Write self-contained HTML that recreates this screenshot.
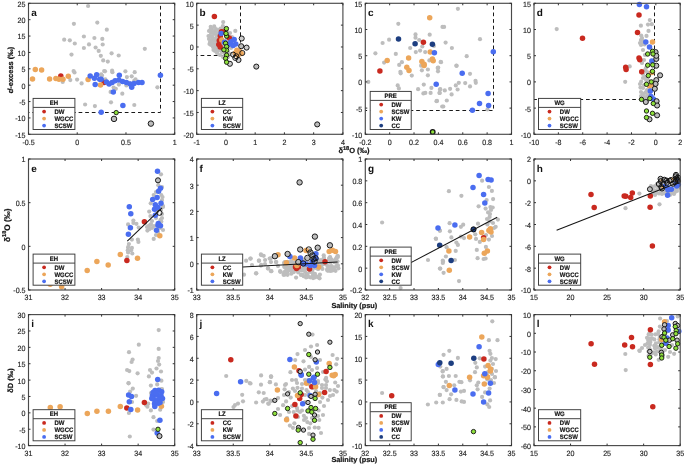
<!DOCTYPE html>
<html><head><meta charset="utf-8"><style>html,body{margin:0;padding:0;background:#fff;}svg{display:block;font-family:"Liberation Sans",sans-serif;text-rendering:geometricPrecision;filter:blur(0.3px);}</style></head><body>
<svg width="685" height="464" viewBox="0 0 685 464">
<rect width="685" height="464" fill="#fff"/>
<rect x="28.5" y="3.3" width="146.2" height="131" fill="#fff"/>
<polyline points="160.5,3.3 160.5,112.5 28.5,112.5" fill="none" stroke="#1a1a1a" stroke-width="1" stroke-dasharray="3.7 2.9" stroke-dashoffset="4.0"/>
<circle cx="88.1" cy="6" r="2.1" fill="#BDBDBD"/>
<circle cx="73.9" cy="23.8" r="2.1" fill="#BDBDBD"/>
<circle cx="97.3" cy="22.6" r="2.1" fill="#BDBDBD"/>
<circle cx="64.2" cy="39.7" r="2.1" fill="#BDBDBD"/>
<circle cx="69.8" cy="40.3" r="2.1" fill="#BDBDBD"/>
<circle cx="74.8" cy="43.5" r="2.1" fill="#BDBDBD"/>
<circle cx="83.9" cy="36.5" r="2.1" fill="#BDBDBD"/>
<circle cx="94.4" cy="38" r="2.1" fill="#BDBDBD"/>
<circle cx="102.3" cy="38.9" r="2.1" fill="#BDBDBD"/>
<circle cx="89" cy="44.4" r="2.1" fill="#BDBDBD"/>
<circle cx="83.9" cy="48" r="2.1" fill="#BDBDBD"/>
<circle cx="95.6" cy="47.5" r="2.1" fill="#BDBDBD"/>
<circle cx="98.7" cy="50.9" r="2.1" fill="#BDBDBD"/>
<circle cx="102.7" cy="44.5" r="2.1" fill="#BDBDBD"/>
<circle cx="71.5" cy="54.6" r="2.1" fill="#BDBDBD"/>
<circle cx="100.8" cy="55.8" r="2.1" fill="#BDBDBD"/>
<circle cx="103.2" cy="60.4" r="2.1" fill="#BDBDBD"/>
<circle cx="106.8" cy="29.7" r="2.1" fill="#BDBDBD"/>
<circle cx="144.8" cy="48.8" r="2.1" fill="#BDBDBD"/>
<circle cx="111.6" cy="53.3" r="2.1" fill="#BDBDBD"/>
<circle cx="118.7" cy="55.5" r="2.1" fill="#BDBDBD"/>
<circle cx="107.8" cy="61.6" r="2.1" fill="#BDBDBD"/>
<circle cx="73.6" cy="71" r="2.1" fill="#BDBDBD"/>
<circle cx="70.3" cy="80.1" r="2.1" fill="#BDBDBD"/>
<circle cx="77.1" cy="79.6" r="2.1" fill="#BDBDBD"/>
<circle cx="81.6" cy="83.4" r="2.1" fill="#BDBDBD"/>
<circle cx="62.7" cy="81.9" r="2.1" fill="#BDBDBD"/>
<circle cx="102" cy="75.6" r="2.1" fill="#BDBDBD"/>
<circle cx="85.1" cy="104.5" r="2.1" fill="#BDBDBD"/>
<circle cx="94.9" cy="106.1" r="2.1" fill="#BDBDBD"/>
<circle cx="104.2" cy="71" r="2.1" fill="#BDBDBD"/>
<circle cx="105" cy="71.3" r="2.1" fill="#BDBDBD"/>
<circle cx="112.1" cy="70.7" r="2.1" fill="#BDBDBD"/>
<circle cx="112.4" cy="72.2" r="2.1" fill="#BDBDBD"/>
<circle cx="125.4" cy="71.3" r="2.1" fill="#BDBDBD"/>
<circle cx="134.7" cy="72.2" r="2.1" fill="#BDBDBD"/>
<circle cx="126.9" cy="77.1" r="2.1" fill="#BDBDBD"/>
<circle cx="131.7" cy="76.3" r="2.1" fill="#BDBDBD"/>
<circle cx="135.5" cy="79.3" r="2.1" fill="#BDBDBD"/>
<circle cx="101.2" cy="74.4" r="2.1" fill="#BDBDBD"/>
<circle cx="105.3" cy="79.3" r="2.1" fill="#BDBDBD"/>
<circle cx="113.6" cy="87.6" r="2.1" fill="#BDBDBD"/>
<circle cx="115.8" cy="88.8" r="2.1" fill="#BDBDBD"/>
<circle cx="110.6" cy="91.9" r="2.1" fill="#BDBDBD"/>
<circle cx="122.3" cy="93.7" r="2.1" fill="#BDBDBD"/>
<circle cx="118.9" cy="84.6" r="2.1" fill="#BDBDBD"/>
<circle cx="126.4" cy="85.4" r="2.1" fill="#BDBDBD"/>
<circle cx="157.4" cy="87.3" r="2.1" fill="#BDBDBD"/>
<circle cx="111" cy="102.3" r="2.1" fill="#BDBDBD"/>
<circle cx="134.3" cy="105" r="2.1" fill="#BDBDBD"/>
<circle cx="129" cy="82.9" r="2.1" fill="#BDBDBD"/>
<circle cx="134.2" cy="80.8" r="2.1" fill="#BDBDBD"/>
<circle cx="74.5" cy="72.5" r="2.1" fill="#BDBDBD"/>
<circle cx="60.8" cy="75.9" r="2.75" fill="#C9291F"/>
<circle cx="104" cy="82.6" r="2.75" fill="#C9291F"/>
<circle cx="35.3" cy="69.5" r="2.75" fill="#ECA65A"/>
<circle cx="41.6" cy="70" r="2.75" fill="#ECA65A"/>
<circle cx="32.5" cy="79" r="2.75" fill="#ECA65A"/>
<circle cx="49.6" cy="79" r="2.75" fill="#ECA65A"/>
<circle cx="55.9" cy="78.6" r="2.75" fill="#ECA65A"/>
<circle cx="59" cy="79.3" r="2.75" fill="#ECA65A"/>
<circle cx="63" cy="79.3" r="2.75" fill="#ECA65A"/>
<circle cx="68.3" cy="76.3" r="2.75" fill="#ECA65A"/>
<circle cx="88.1" cy="79.5" r="2.75" fill="#ECA65A"/>
<circle cx="100.5" cy="85.1" r="2.75" fill="#ECA65A"/>
<circle cx="90.2" cy="75.9" r="2.75" fill="#4A6DF0"/>
<circle cx="96.7" cy="74.8" r="2.75" fill="#4A6DF0"/>
<circle cx="94.4" cy="78.3" r="2.75" fill="#4A6DF0"/>
<circle cx="99.7" cy="79.3" r="2.75" fill="#4A6DF0"/>
<circle cx="95.2" cy="84.6" r="2.75" fill="#4A6DF0"/>
<circle cx="101.2" cy="112.2" r="2.75" fill="#4A6DF0"/>
<circle cx="101.2" cy="79.3" r="2.75" fill="#4A6DF0"/>
<circle cx="109.1" cy="83.9" r="2.75" fill="#4A6DF0"/>
<circle cx="112.1" cy="82.4" r="2.75" fill="#4A6DF0"/>
<circle cx="115.1" cy="80.8" r="2.75" fill="#4A6DF0"/>
<circle cx="119.3" cy="75.3" r="2.75" fill="#4A6DF0"/>
<circle cx="118.9" cy="80.1" r="2.75" fill="#4A6DF0"/>
<circle cx="122.6" cy="81.6" r="2.75" fill="#4A6DF0"/>
<circle cx="126.4" cy="82.4" r="2.75" fill="#4A6DF0"/>
<circle cx="130.2" cy="83.9" r="2.75" fill="#4A6DF0"/>
<circle cx="131.7" cy="87.3" r="2.75" fill="#4A6DF0"/>
<circle cx="138.5" cy="82.4" r="2.75" fill="#4A6DF0"/>
<circle cx="142" cy="82.4" r="2.75" fill="#4A6DF0"/>
<circle cx="113.3" cy="91.9" r="2.75" fill="#4A6DF0"/>
<circle cx="122.9" cy="105.5" r="2.75" fill="#4A6DF0"/>
<circle cx="160.4" cy="75.3" r="2.75" fill="#4A6DF0"/>
<circle cx="106.5" cy="82" r="2.75" fill="#4A6DF0"/>
<circle cx="134" cy="83.5" r="2.75" fill="#4A6DF0"/>
<circle cx="114" cy="118.9" r="2.75" fill="#BDBDBD" stroke="#111" stroke-width="0.95"/>
<circle cx="150.9" cy="123.6" r="2.75" fill="#BDBDBD" stroke="#111" stroke-width="0.95"/>
<circle cx="116.2" cy="112.6" r="2.2" fill="#8EE03C" stroke="#111" stroke-width="0.9"/>
<rect x="33.1" y="98.4" width="41.8" height="31.1" fill="#fff" stroke="#3a3a3a" stroke-width="0.95"/>
<line x1="33.1" y1="107.4" x2="74.9" y2="107.4" stroke="#3a3a3a" stroke-width="0.95"/>
<text transform="translate(54,105.1) scale(1,1.07)" font-size="6" font-weight="bold" text-anchor="middle" fill="#111" stroke="#111" stroke-width="0.15">EH</text>
<circle cx="44.1" cy="111.6" r="1.9" fill="#C9291F"/>
<text transform="translate(54.4,113.9) scale(1,1.07)" font-size="6" font-weight="bold" fill="#111" stroke="#111" stroke-width="0.15">DW</text>
<circle cx="44.1" cy="118.6" r="1.9" fill="#ECA65A"/>
<text transform="translate(54.4,120.9) scale(1,1.07)" font-size="6" font-weight="bold" fill="#111" stroke="#111" stroke-width="0.15">WGCC</text>
<circle cx="44.1" cy="125.6" r="1.9" fill="#4A6DF0"/>
<text transform="translate(54.4,127.9) scale(1,1.07)" font-size="6" font-weight="bold" fill="#111" stroke="#111" stroke-width="0.15">SCSW</text>
<rect x="28.5" y="3.3" width="146.2" height="131" fill="none" stroke="#4a4a4a" stroke-width="1.15"/>
<text transform="translate(28.5,144.6) scale(1,1.07)" font-size="7.1" text-anchor="middle" fill="#262626" stroke="#262626" stroke-width="0.15">-0.5</text>
<text transform="translate(77.23,144.6) scale(1,1.07)" font-size="7.1" text-anchor="middle" fill="#262626" stroke="#262626" stroke-width="0.15">0</text>
<text transform="translate(125.97,144.6) scale(1,1.07)" font-size="7.1" text-anchor="middle" fill="#262626" stroke="#262626" stroke-width="0.15">0.5</text>
<text transform="translate(174.7,144.6) scale(1,1.07)" font-size="7.1" text-anchor="middle" fill="#262626" stroke="#262626" stroke-width="0.15">1</text>
<text transform="translate(25.5,137.7) scale(1,1.07)" font-size="7.1" text-anchor="end" fill="#262626" stroke="#262626" stroke-width="0.15">-15</text>
<text transform="translate(25.5,121.33) scale(1,1.07)" font-size="7.1" text-anchor="end" fill="#262626" stroke="#262626" stroke-width="0.15">-10</text>
<text transform="translate(25.5,104.95) scale(1,1.07)" font-size="7.1" text-anchor="end" fill="#262626" stroke="#262626" stroke-width="0.15">-5</text>
<text transform="translate(25.5,88.58) scale(1,1.07)" font-size="7.1" text-anchor="end" fill="#262626" stroke="#262626" stroke-width="0.15">0</text>
<text transform="translate(25.5,72.2) scale(1,1.07)" font-size="7.1" text-anchor="end" fill="#262626" stroke="#262626" stroke-width="0.15">5</text>
<text transform="translate(25.5,55.83) scale(1,1.07)" font-size="7.1" text-anchor="end" fill="#262626" stroke="#262626" stroke-width="0.15">10</text>
<text transform="translate(25.5,39.45) scale(1,1.07)" font-size="7.1" text-anchor="end" fill="#262626" stroke="#262626" stroke-width="0.15">15</text>
<text transform="translate(25.5,23.08) scale(1,1.07)" font-size="7.1" text-anchor="end" fill="#262626" stroke="#262626" stroke-width="0.15">20</text>
<text transform="translate(25.5,6.7) scale(1,1.07)" font-size="7.1" text-anchor="end" fill="#262626" stroke="#262626" stroke-width="0.15">25</text>
<path d="M28.5 134.3v-2M28.5 3.3v2M77.23 134.3v-2M77.23 3.3v2M125.97 134.3v-2M125.97 3.3v2M174.7 134.3v-2M174.7 3.3v2M28.5 134.3h2M174.7 134.3h-2M28.5 117.93h2M174.7 117.93h-2M28.5 101.55h2M174.7 101.55h-2M28.5 85.18h2M174.7 85.18h-2M28.5 68.8h2M174.7 68.8h-2M28.5 52.43h2M174.7 52.43h-2M28.5 36.05h2M174.7 36.05h-2M28.5 19.68h2M174.7 19.68h-2M28.5 3.3h2M174.7 3.3h-2" stroke="#333" stroke-width="1.0" fill="none"/>
<text x="31.3" y="15.9" font-size="10" font-weight="bold" fill="#111">a</text>
<rect x="196.7" y="3.3" width="146.2" height="131" fill="#fff"/>
<polyline points="240.5,3.3 240.5,55.5 196.7,55.5" fill="none" stroke="#1a1a1a" stroke-width="1" stroke-dasharray="3.7 2.9" stroke-dashoffset="4.0"/>
<circle cx="223.2" cy="22.1" r="2.1" fill="#BDBDBD"/>
<circle cx="210.7" cy="26.8" r="2.1" fill="#BDBDBD"/>
<circle cx="214.2" cy="26.4" r="2.1" fill="#BDBDBD"/>
<circle cx="222.9" cy="26.1" r="2.1" fill="#BDBDBD"/>
<circle cx="235.3" cy="30.9" r="2.1" fill="#BDBDBD"/>
<circle cx="210" cy="36" r="2.1" fill="#BDBDBD"/>
<circle cx="212" cy="40" r="2.1" fill="#BDBDBD"/>
<circle cx="214" cy="44" r="2.1" fill="#BDBDBD"/>
<circle cx="216" cy="48" r="2.1" fill="#BDBDBD"/>
<circle cx="218" cy="51" r="2.1" fill="#BDBDBD"/>
<circle cx="211" cy="33" r="2.1" fill="#BDBDBD"/>
<circle cx="215" cy="31" r="2.1" fill="#BDBDBD"/>
<circle cx="219" cy="30" r="2.1" fill="#BDBDBD"/>
<circle cx="223" cy="29" r="2.1" fill="#BDBDBD"/>
<circle cx="227" cy="31" r="2.1" fill="#BDBDBD"/>
<circle cx="230" cy="33" r="2.1" fill="#BDBDBD"/>
<circle cx="232" cy="37" r="2.1" fill="#BDBDBD"/>
<circle cx="229" cy="42" r="2.1" fill="#BDBDBD"/>
<circle cx="226" cy="45" r="2.1" fill="#BDBDBD"/>
<circle cx="224" cy="50" r="2.1" fill="#BDBDBD"/>
<circle cx="213" cy="38" r="2.1" fill="#BDBDBD"/>
<circle cx="217" cy="35" r="2.1" fill="#BDBDBD"/>
<circle cx="221" cy="42" r="2.1" fill="#BDBDBD"/>
<circle cx="216" cy="41" r="2.1" fill="#BDBDBD"/>
<circle cx="219" cy="47" r="2.1" fill="#BDBDBD"/>
<circle cx="222" cy="52" r="2.1" fill="#BDBDBD"/>
<circle cx="225" cy="55" r="2.1" fill="#BDBDBD"/>
<circle cx="228" cy="52" r="2.1" fill="#BDBDBD"/>
<circle cx="231" cy="48" r="2.1" fill="#BDBDBD"/>
<circle cx="233" cy="45" r="2.1" fill="#BDBDBD"/>
<circle cx="210" cy="42" r="2.1" fill="#BDBDBD"/>
<circle cx="213" cy="47" r="2.1" fill="#BDBDBD"/>
<circle cx="227" cy="39" r="2.1" fill="#BDBDBD"/>
<circle cx="209" cy="31" r="2.1" fill="#BDBDBD"/>
<circle cx="212" cy="29" r="2.1" fill="#BDBDBD"/>
<circle cx="217" cy="53" r="2.1" fill="#BDBDBD"/>
<circle cx="220" cy="55" r="2.1" fill="#BDBDBD"/>
<circle cx="223" cy="57" r="2.1" fill="#BDBDBD"/>
<circle cx="228" cy="57" r="2.1" fill="#BDBDBD"/>
<circle cx="231" cy="54" r="2.1" fill="#BDBDBD"/>
<circle cx="221" cy="37" r="2.1" fill="#BDBDBD"/>
<circle cx="214" cy="34" r="2.1" fill="#BDBDBD"/>
<circle cx="208.5" cy="36" r="2.1" fill="#BDBDBD"/>
<circle cx="211" cy="45" r="2.1" fill="#BDBDBD"/>
<circle cx="215" cy="51" r="2.1" fill="#BDBDBD"/>
<circle cx="219" cy="39" r="2.1" fill="#BDBDBD"/>
<circle cx="209" cy="39" r="2.1" fill="#BDBDBD"/>
<circle cx="210.5" cy="29.5" r="2.1" fill="#BDBDBD"/>
<circle cx="213" cy="32" r="2.1" fill="#BDBDBD"/>
<circle cx="216" cy="29" r="2.1" fill="#BDBDBD"/>
<circle cx="218" cy="33" r="2.1" fill="#BDBDBD"/>
<circle cx="209.5" cy="44" r="2.1" fill="#BDBDBD"/>
<circle cx="212" cy="43" r="2.1" fill="#BDBDBD"/>
<circle cx="214.5" cy="40.5" r="2.1" fill="#BDBDBD"/>
<circle cx="216.5" cy="37.5" r="2.1" fill="#BDBDBD"/>
<circle cx="217" cy="44" r="2.1" fill="#BDBDBD"/>
<circle cx="213.5" cy="50" r="2.1" fill="#BDBDBD"/>
<circle cx="216" cy="46" r="2.1" fill="#BDBDBD"/>
<circle cx="218" cy="49" r="2.1" fill="#BDBDBD"/>
<circle cx="221" cy="50" r="2.1" fill="#BDBDBD"/>
<circle cx="224" cy="53" r="2.1" fill="#BDBDBD"/>
<circle cx="223" cy="47" r="2.1" fill="#BDBDBD"/>
<circle cx="226" cy="50" r="2.1" fill="#BDBDBD"/>
<circle cx="229" cy="47" r="2.1" fill="#BDBDBD"/>
<circle cx="231" cy="44" r="2.1" fill="#BDBDBD"/>
<circle cx="233" cy="40" r="2.1" fill="#BDBDBD"/>
<circle cx="230" cy="38.5" r="2.1" fill="#BDBDBD"/>
<circle cx="212" cy="36.5" r="2.1" fill="#BDBDBD"/>
<circle cx="215.5" cy="33" r="2.1" fill="#BDBDBD"/>
<circle cx="220.5" cy="28.5" r="2.1" fill="#BDBDBD"/>
<circle cx="224.5" cy="30.5" r="2.1" fill="#BDBDBD"/>
<circle cx="228" cy="35" r="2.1" fill="#BDBDBD"/>
<circle cx="222" cy="45.5" r="2.1" fill="#BDBDBD"/>
<circle cx="214.4" cy="16.4" r="2.75" fill="#C9291F"/>
<circle cx="223.9" cy="32" r="2.75" fill="#C9291F"/>
<circle cx="221.5" cy="31.8" r="2.75" fill="#C9291F"/>
<circle cx="220.3" cy="36" r="2.75" fill="#C9291F"/>
<circle cx="219.3" cy="40.5" r="2.75" fill="#C9291F"/>
<circle cx="218.8" cy="44.5" r="2.75" fill="#C9291F"/>
<circle cx="220.2" cy="47" r="2.75" fill="#C9291F"/>
<circle cx="229.3" cy="37.9" r="2.75" fill="#C9291F"/>
<circle cx="221.8" cy="40.1" r="2.75" fill="#ECA65A"/>
<circle cx="236.9" cy="50.3" r="2.75" fill="#ECA65A"/>
<circle cx="241.2" cy="53.6" r="2.75" fill="#ECA65A"/>
<circle cx="237.9" cy="55.2" r="2.75" fill="#ECA65A"/>
<circle cx="235.5" cy="53" r="2.75" fill="#ECA65A"/>
<circle cx="239.5" cy="51.5" r="2.75" fill="#ECA65A"/>
<circle cx="221.2" cy="33.6" r="2.75" fill="#4A6DF0"/>
<circle cx="224.5" cy="42.2" r="2.75" fill="#4A6DF0"/>
<circle cx="230.9" cy="41.7" r="2.75" fill="#4A6DF0"/>
<circle cx="234.2" cy="39.6" r="2.75" fill="#4A6DF0"/>
<circle cx="235.8" cy="43.9" r="2.75" fill="#4A6DF0"/>
<circle cx="233.1" cy="45.5" r="2.75" fill="#4A6DF0"/>
<circle cx="228.5" cy="44.5" r="2.75" fill="#4A6DF0"/>
<circle cx="256.3" cy="66.6" r="2.55" fill="#BDBDBD" stroke="#111" stroke-width="0.95"/>
<circle cx="317.2" cy="124.4" r="2.55" fill="#BDBDBD" stroke="#111" stroke-width="0.95"/>
<circle cx="241.2" cy="46.2" r="2.55" fill="#BDBDBD" stroke="#111" stroke-width="0.95"/>
<circle cx="241.7" cy="38.5" r="2.55" fill="#CDCDCD" stroke="#111" stroke-width="0.95"/>
<circle cx="246.6" cy="47.6" r="2.55" fill="#CDCDCD" stroke="#111" stroke-width="0.95"/>
<circle cx="238.5" cy="60" r="2.55" fill="#CDCDCD" stroke="#111" stroke-width="0.95"/>
<circle cx="229.9" cy="63.8" r="2.55" fill="#CDCDCD" stroke="#111" stroke-width="0.95"/>
<circle cx="242.3" cy="53" r="2.55" fill="none" stroke="#111" stroke-width="0.95"/>
<circle cx="233.1" cy="54.6" r="2.55" fill="none" stroke="#111" stroke-width="0.95"/>
<circle cx="236.3" cy="56.3" r="2.55" fill="none" stroke="#111" stroke-width="0.95"/>
<circle cx="235.3" cy="57.9" r="2.55" fill="none" stroke="#111" stroke-width="0.95"/>
<circle cx="226.4" cy="28.6" r="2.2" fill="#8EE03C" stroke="#111" stroke-width="0.9"/>
<circle cx="226.6" cy="36.1" r="2.2" fill="#8EE03C" stroke="#111" stroke-width="0.9"/>
<circle cx="225.6" cy="43.3" r="2.2" fill="#8EE03C" stroke="#111" stroke-width="0.9"/>
<circle cx="226.6" cy="46.6" r="2.2" fill="#8EE03C" stroke="#111" stroke-width="0.9"/>
<circle cx="226.6" cy="50.3" r="2.2" fill="#8EE03C" stroke="#111" stroke-width="0.9"/>
<circle cx="223.9" cy="49.8" r="2.2" fill="#8EE03C" stroke="#111" stroke-width="0.9"/>
<circle cx="226.6" cy="55.2" r="2.2" fill="#8EE03C" stroke="#111" stroke-width="0.9"/>
<circle cx="225.6" cy="58.4" r="2.2" fill="#8EE03C" stroke="#111" stroke-width="0.9"/>
<circle cx="226.6" cy="62.2" r="2.2" fill="#8EE03C" stroke="#111" stroke-width="0.9"/>
<circle cx="226" cy="33.5" r="2.2" fill="#8EE03C" stroke="#111" stroke-width="0.9"/>
<rect x="201.4" y="98.4" width="41.3" height="31.1" fill="#fff" stroke="#3a3a3a" stroke-width="0.95"/>
<line x1="201.4" y1="107.4" x2="242.7" y2="107.4" stroke="#3a3a3a" stroke-width="0.95"/>
<text transform="translate(222.05,105.1) scale(1,1.07)" font-size="6" font-weight="bold" text-anchor="middle" fill="#111" stroke="#111" stroke-width="0.15">LZ</text>
<circle cx="212.4" cy="111.6" r="1.9" fill="#C9291F"/>
<text transform="translate(222.7,113.9) scale(1,1.07)" font-size="6" font-weight="bold" fill="#111" stroke="#111" stroke-width="0.15">CC</text>
<circle cx="212.4" cy="118.6" r="1.9" fill="#ECA65A"/>
<text transform="translate(222.7,120.9) scale(1,1.07)" font-size="6" font-weight="bold" fill="#111" stroke="#111" stroke-width="0.15">KW</text>
<circle cx="212.4" cy="125.6" r="1.9" fill="#4A6DF0"/>
<text transform="translate(222.7,127.9) scale(1,1.07)" font-size="6" font-weight="bold" fill="#111" stroke="#111" stroke-width="0.15">SCSW</text>
<rect x="196.7" y="3.3" width="146.2" height="131" fill="none" stroke="#4a4a4a" stroke-width="1.15"/>
<text transform="translate(196.7,144.6) scale(1,1.07)" font-size="7.1" text-anchor="middle" fill="#262626" stroke="#262626" stroke-width="0.15">-1</text>
<text transform="translate(225.94,144.6) scale(1,1.07)" font-size="7.1" text-anchor="middle" fill="#262626" stroke="#262626" stroke-width="0.15">0</text>
<text transform="translate(255.18,144.6) scale(1,1.07)" font-size="7.1" text-anchor="middle" fill="#262626" stroke="#262626" stroke-width="0.15">1</text>
<text transform="translate(284.42,144.6) scale(1,1.07)" font-size="7.1" text-anchor="middle" fill="#262626" stroke="#262626" stroke-width="0.15">2</text>
<text transform="translate(313.66,144.6) scale(1,1.07)" font-size="7.1" text-anchor="middle" fill="#262626" stroke="#262626" stroke-width="0.15">3</text>
<text transform="translate(342.9,144.6) scale(1,1.07)" font-size="7.1" text-anchor="middle" fill="#262626" stroke="#262626" stroke-width="0.15">4</text>
<text transform="translate(193.7,137.7) scale(1,1.07)" font-size="7.1" text-anchor="end" fill="#262626" stroke="#262626" stroke-width="0.15">-20</text>
<text transform="translate(193.7,115.87) scale(1,1.07)" font-size="7.1" text-anchor="end" fill="#262626" stroke="#262626" stroke-width="0.15">-15</text>
<text transform="translate(193.7,94.03) scale(1,1.07)" font-size="7.1" text-anchor="end" fill="#262626" stroke="#262626" stroke-width="0.15">-10</text>
<text transform="translate(193.7,72.2) scale(1,1.07)" font-size="7.1" text-anchor="end" fill="#262626" stroke="#262626" stroke-width="0.15">-5</text>
<text transform="translate(193.7,50.37) scale(1,1.07)" font-size="7.1" text-anchor="end" fill="#262626" stroke="#262626" stroke-width="0.15">0</text>
<text transform="translate(193.7,28.53) scale(1,1.07)" font-size="7.1" text-anchor="end" fill="#262626" stroke="#262626" stroke-width="0.15">5</text>
<text transform="translate(193.7,6.7) scale(1,1.07)" font-size="7.1" text-anchor="end" fill="#262626" stroke="#262626" stroke-width="0.15">10</text>
<path d="M196.7 134.3v-2M196.7 3.3v2M225.94 134.3v-2M225.94 3.3v2M255.18 134.3v-2M255.18 3.3v2M284.42 134.3v-2M284.42 3.3v2M313.66 134.3v-2M313.66 3.3v2M342.9 134.3v-2M342.9 3.3v2M196.7 134.3h2M342.9 134.3h-2M196.7 112.47h2M342.9 112.47h-2M196.7 90.63h2M342.9 90.63h-2M196.7 68.8h2M342.9 68.8h-2M196.7 46.97h2M342.9 46.97h-2M196.7 25.13h2M342.9 25.13h-2M196.7 3.3h2M342.9 3.3h-2" stroke="#333" stroke-width="1.0" fill="none"/>
<text x="199.5" y="15.9" font-size="10" font-weight="bold" fill="#111">b</text>
<rect x="365.3" y="3.3" width="146.2" height="131" fill="#fff"/>
<polyline points="493.5,3.3 493.5,110.5 365.3,110.5" fill="none" stroke="#1a1a1a" stroke-width="1" stroke-dasharray="3.7 2.9" stroke-dashoffset="4.0"/>
<circle cx="398.3" cy="23.8" r="2.1" fill="#BDBDBD"/>
<circle cx="382.6" cy="43" r="2.1" fill="#BDBDBD"/>
<circle cx="389.1" cy="39.7" r="2.1" fill="#BDBDBD"/>
<circle cx="415.5" cy="34.4" r="2.1" fill="#BDBDBD"/>
<circle cx="415.5" cy="37.7" r="2.1" fill="#BDBDBD"/>
<circle cx="419.2" cy="40" r="2.1" fill="#BDBDBD"/>
<circle cx="429.7" cy="34.7" r="2.1" fill="#BDBDBD"/>
<circle cx="442.5" cy="26.9" r="2.1" fill="#BDBDBD"/>
<circle cx="375.4" cy="53.3" r="2.1" fill="#BDBDBD"/>
<circle cx="395.8" cy="53.9" r="2.1" fill="#BDBDBD"/>
<circle cx="410.2" cy="48" r="2.1" fill="#BDBDBD"/>
<circle cx="415.8" cy="52.1" r="2.1" fill="#BDBDBD"/>
<circle cx="420.1" cy="50.6" r="2.1" fill="#BDBDBD"/>
<circle cx="422.3" cy="46.5" r="2.1" fill="#BDBDBD"/>
<circle cx="425.2" cy="52.1" r="2.1" fill="#BDBDBD"/>
<circle cx="384.1" cy="62.6" r="2.1" fill="#BDBDBD"/>
<circle cx="399.2" cy="64.9" r="2.1" fill="#BDBDBD"/>
<circle cx="401.9" cy="62.2" r="2.1" fill="#BDBDBD"/>
<circle cx="421.1" cy="65.7" r="2.1" fill="#BDBDBD"/>
<circle cx="429.4" cy="60.4" r="2.1" fill="#BDBDBD"/>
<circle cx="440.7" cy="61.9" r="2.1" fill="#BDBDBD"/>
<circle cx="438.2" cy="67.6" r="2.1" fill="#BDBDBD"/>
<circle cx="433.9" cy="46" r="2.1" fill="#BDBDBD"/>
<circle cx="457.9" cy="8.8" r="2.1" fill="#BDBDBD"/>
<circle cx="444.1" cy="26.9" r="2.1" fill="#BDBDBD"/>
<circle cx="480" cy="39.2" r="2.1" fill="#BDBDBD"/>
<circle cx="445.6" cy="42.6" r="2.1" fill="#BDBDBD"/>
<circle cx="451.9" cy="48" r="2.1" fill="#BDBDBD"/>
<circle cx="466.7" cy="56.2" r="2.1" fill="#BDBDBD"/>
<circle cx="441" cy="62.2" r="2.1" fill="#BDBDBD"/>
<circle cx="456.4" cy="65.7" r="2.1" fill="#BDBDBD"/>
<circle cx="438" cy="67.9" r="2.1" fill="#BDBDBD"/>
<circle cx="400.4" cy="71.8" r="2.1" fill="#BDBDBD"/>
<circle cx="400.7" cy="73.3" r="2.1" fill="#BDBDBD"/>
<circle cx="411.8" cy="75.6" r="2.1" fill="#BDBDBD"/>
<circle cx="368.3" cy="81.9" r="2.1" fill="#BDBDBD"/>
<circle cx="397.7" cy="85.4" r="2.1" fill="#BDBDBD"/>
<circle cx="398.9" cy="88.4" r="2.1" fill="#BDBDBD"/>
<circle cx="421.9" cy="70.3" r="2.1" fill="#BDBDBD"/>
<circle cx="427.9" cy="69.5" r="2.1" fill="#BDBDBD"/>
<circle cx="427.9" cy="75.3" r="2.1" fill="#BDBDBD"/>
<circle cx="437.7" cy="68" r="2.1" fill="#BDBDBD"/>
<circle cx="438" cy="71.3" r="2.1" fill="#BDBDBD"/>
<circle cx="423.8" cy="84.6" r="2.1" fill="#BDBDBD"/>
<circle cx="418.1" cy="89.2" r="2.1" fill="#BDBDBD"/>
<circle cx="423.4" cy="93.4" r="2.1" fill="#BDBDBD"/>
<circle cx="425.3" cy="92.9" r="2.1" fill="#BDBDBD"/>
<circle cx="431.4" cy="87.9" r="2.1" fill="#BDBDBD"/>
<circle cx="430.6" cy="92.9" r="2.1" fill="#BDBDBD"/>
<circle cx="440" cy="89.5" r="2.1" fill="#BDBDBD"/>
<circle cx="439.7" cy="92.9" r="2.1" fill="#BDBDBD"/>
<circle cx="437" cy="100.9" r="2.1" fill="#BDBDBD"/>
<circle cx="442.2" cy="106.5" r="2.1" fill="#BDBDBD"/>
<circle cx="456.6" cy="65.8" r="2.1" fill="#BDBDBD"/>
<circle cx="470" cy="73.8" r="2.1" fill="#BDBDBD"/>
<circle cx="475.5" cy="80.8" r="2.1" fill="#BDBDBD"/>
<circle cx="475.8" cy="82.8" r="2.1" fill="#BDBDBD"/>
<circle cx="465.2" cy="83.1" r="2.1" fill="#BDBDBD"/>
<circle cx="458.8" cy="82.8" r="2.1" fill="#BDBDBD"/>
<circle cx="455.8" cy="85.4" r="2.1" fill="#BDBDBD"/>
<circle cx="470" cy="86.4" r="2.1" fill="#BDBDBD"/>
<circle cx="457.6" cy="89.5" r="2.1" fill="#BDBDBD"/>
<circle cx="450.1" cy="88.8" r="2.1" fill="#BDBDBD"/>
<circle cx="444.8" cy="90.4" r="2.1" fill="#BDBDBD"/>
<circle cx="440.3" cy="89.2" r="2.1" fill="#BDBDBD"/>
<circle cx="439.5" cy="92.9" r="2.1" fill="#BDBDBD"/>
<circle cx="451.6" cy="94.4" r="2.1" fill="#BDBDBD"/>
<circle cx="446.8" cy="100.5" r="2.1" fill="#BDBDBD"/>
<circle cx="436.5" cy="101.2" r="2.1" fill="#BDBDBD"/>
<circle cx="443.3" cy="106.5" r="2.1" fill="#BDBDBD"/>
<circle cx="487.5" cy="109.5" r="2.1" fill="#BDBDBD"/>
<circle cx="423.4" cy="42.3" r="2.75" fill="#C9291F"/>
<circle cx="379.9" cy="70.9" r="2.75" fill="#C9291F"/>
<circle cx="429.7" cy="17.8" r="2.75" fill="#ECA65A"/>
<circle cx="387.2" cy="60.4" r="2.75" fill="#ECA65A"/>
<circle cx="408.6" cy="58.1" r="2.75" fill="#ECA65A"/>
<circle cx="421.9" cy="61.6" r="2.75" fill="#ECA65A"/>
<circle cx="424.1" cy="64.2" r="2.75" fill="#ECA65A"/>
<circle cx="432.4" cy="58.9" r="2.75" fill="#ECA65A"/>
<circle cx="433.2" cy="60.7" r="2.75" fill="#ECA65A"/>
<circle cx="430.2" cy="52.1" r="2.75" fill="#ECA65A"/>
<circle cx="406.8" cy="67.3" r="2.75" fill="#ECA65A"/>
<circle cx="409" cy="70.6" r="2.75" fill="#ECA65A"/>
<circle cx="424.1" cy="65.5" r="2.75" fill="#ECA65A"/>
<circle cx="434.4" cy="52.8" r="2.75" fill="#4A6DF0"/>
<circle cx="493.3" cy="51.8" r="2.75" fill="#4A6DF0"/>
<circle cx="462.2" cy="73.3" r="2.75" fill="#4A6DF0"/>
<circle cx="436.2" cy="84.3" r="2.75" fill="#4A6DF0"/>
<circle cx="488.1" cy="93.4" r="2.75" fill="#4A6DF0"/>
<circle cx="479.5" cy="103.5" r="2.75" fill="#4A6DF0"/>
<circle cx="488.6" cy="105.5" r="2.75" fill="#4A6DF0"/>
<circle cx="472.4" cy="110.3" r="2.75" fill="#4A6DF0"/>
<circle cx="398.5" cy="38.9" r="2.75" fill="#1D3E80"/>
<circle cx="415.1" cy="43.8" r="2.75" fill="#1D3E80"/>
<circle cx="432.4" cy="44.2" r="2.75" fill="#1D3E80"/>
<circle cx="432.7" cy="132" r="2.3" fill="#8EE03C" stroke="#111" stroke-width="1.3"/>
<rect x="370.2" y="91.4" width="41" height="38.1" fill="#fff" stroke="#3a3a3a" stroke-width="0.95"/>
<line x1="370.2" y1="100.4" x2="411.2" y2="100.4" stroke="#3a3a3a" stroke-width="0.95"/>
<text transform="translate(390.7,98.1) scale(1,1.07)" font-size="6" font-weight="bold" text-anchor="middle" fill="#111" stroke="#111" stroke-width="0.15">PRE</text>
<circle cx="381.2" cy="104.6" r="1.9" fill="#C9291F"/>
<text transform="translate(391.5,106.9) scale(1,1.07)" font-size="6" font-weight="bold" fill="#111" stroke="#111" stroke-width="0.15">DW</text>
<circle cx="381.2" cy="111.6" r="1.9" fill="#ECA65A"/>
<text transform="translate(391.5,113.9) scale(1,1.07)" font-size="6" font-weight="bold" fill="#111" stroke="#111" stroke-width="0.15">SCSW</text>
<circle cx="381.2" cy="118.6" r="1.9" fill="#4A6DF0"/>
<text transform="translate(391.5,120.9) scale(1,1.07)" font-size="6" font-weight="bold" fill="#111" stroke="#111" stroke-width="0.15">KW</text>
<circle cx="381.2" cy="125.6" r="1.9" fill="#1D3E80"/>
<text transform="translate(391.5,127.9) scale(1,1.07)" font-size="6" font-weight="bold" fill="#111" stroke="#111" stroke-width="0.15">CC</text>
<rect x="365.3" y="3.3" width="146.2" height="131" fill="none" stroke="#4a4a4a" stroke-width="1.15"/>
<text transform="translate(365.3,144.6) scale(1,1.07)" font-size="7.1" text-anchor="middle" fill="#262626" stroke="#262626" stroke-width="0.15">-0.2</text>
<text transform="translate(389.67,144.6) scale(1,1.07)" font-size="7.1" text-anchor="middle" fill="#262626" stroke="#262626" stroke-width="0.15">0</text>
<text transform="translate(414.03,144.6) scale(1,1.07)" font-size="7.1" text-anchor="middle" fill="#262626" stroke="#262626" stroke-width="0.15">0.2</text>
<text transform="translate(438.4,144.6) scale(1,1.07)" font-size="7.1" text-anchor="middle" fill="#262626" stroke="#262626" stroke-width="0.15">0.4</text>
<text transform="translate(462.77,144.6) scale(1,1.07)" font-size="7.1" text-anchor="middle" fill="#262626" stroke="#262626" stroke-width="0.15">0.6</text>
<text transform="translate(487.13,144.6) scale(1,1.07)" font-size="7.1" text-anchor="middle" fill="#262626" stroke="#262626" stroke-width="0.15">0.8</text>
<text transform="translate(511.5,144.6) scale(1,1.07)" font-size="7.1" text-anchor="middle" fill="#262626" stroke="#262626" stroke-width="0.15">1</text>
<text transform="translate(362.3,137.7) scale(1,1.07)" font-size="7.1" text-anchor="end" fill="#262626" stroke="#262626" stroke-width="0.15">-10</text>
<text transform="translate(362.3,111.5) scale(1,1.07)" font-size="7.1" text-anchor="end" fill="#262626" stroke="#262626" stroke-width="0.15">-5</text>
<text transform="translate(362.3,85.3) scale(1,1.07)" font-size="7.1" text-anchor="end" fill="#262626" stroke="#262626" stroke-width="0.15">0</text>
<text transform="translate(362.3,59.1) scale(1,1.07)" font-size="7.1" text-anchor="end" fill="#262626" stroke="#262626" stroke-width="0.15">5</text>
<text transform="translate(362.3,32.9) scale(1,1.07)" font-size="7.1" text-anchor="end" fill="#262626" stroke="#262626" stroke-width="0.15">10</text>
<text transform="translate(362.3,6.7) scale(1,1.07)" font-size="7.1" text-anchor="end" fill="#262626" stroke="#262626" stroke-width="0.15">15</text>
<path d="M365.3 134.3v-2M365.3 3.3v2M389.67 134.3v-2M389.67 3.3v2M414.03 134.3v-2M414.03 3.3v2M438.4 134.3v-2M438.4 3.3v2M462.77 134.3v-2M462.77 3.3v2M487.13 134.3v-2M487.13 3.3v2M511.5 134.3v-2M511.5 3.3v2M365.3 134.3h2M511.5 134.3h-2M365.3 108.1h2M511.5 108.1h-2M365.3 81.9h2M511.5 81.9h-2M365.3 55.7h2M511.5 55.7h-2M365.3 29.5h2M511.5 29.5h-2M365.3 3.3h2M511.5 3.3h-2" stroke="#333" stroke-width="1.0" fill="none"/>
<text x="368.1" y="15.9" font-size="10" font-weight="bold" fill="#111">c</text>
<rect x="534" y="3.3" width="146.2" height="131" fill="#fff"/>
<polyline points="654.5,3.3 654.5,99.5 534,99.5" fill="none" stroke="#1a1a1a" stroke-width="1" stroke-dasharray="3.7 2.9" stroke-dashoffset="4.0"/>
<circle cx="649.8" cy="20.1" r="2.1" fill="#BDBDBD"/>
<circle cx="648" cy="24.6" r="2.1" fill="#BDBDBD"/>
<circle cx="651.8" cy="24.2" r="2.1" fill="#BDBDBD"/>
<circle cx="640.9" cy="25.7" r="2.1" fill="#BDBDBD"/>
<circle cx="648.5" cy="30.9" r="2.1" fill="#BDBDBD"/>
<circle cx="641.2" cy="35.5" r="2.1" fill="#BDBDBD"/>
<circle cx="646.5" cy="35.9" r="2.1" fill="#BDBDBD"/>
<circle cx="640.9" cy="40" r="2.1" fill="#BDBDBD"/>
<circle cx="642.7" cy="43.8" r="2.1" fill="#BDBDBD"/>
<circle cx="629.7" cy="66.4" r="2.1" fill="#BDBDBD"/>
<circle cx="556.7" cy="29.1" r="2.1" fill="#BDBDBD"/>
<circle cx="625.2" cy="81.8" r="2.1" fill="#BDBDBD"/>
<circle cx="641.2" cy="81.6" r="2.1" fill="#BDBDBD"/>
<circle cx="640.5" cy="87.6" r="2.1" fill="#BDBDBD"/>
<circle cx="642.7" cy="94.4" r="2.1" fill="#BDBDBD"/>
<circle cx="645" cy="77.1" r="2.1" fill="#BDBDBD"/>
<circle cx="643" cy="50" r="2.1" fill="#BDBDBD"/>
<circle cx="645" cy="55" r="2.1" fill="#BDBDBD"/>
<circle cx="642" cy="63" r="2.1" fill="#BDBDBD"/>
<circle cx="646" cy="68" r="2.1" fill="#BDBDBD"/>
<circle cx="644" cy="85" r="2.1" fill="#BDBDBD"/>
<circle cx="647" cy="90" r="2.1" fill="#BDBDBD"/>
<circle cx="645" cy="93" r="2.1" fill="#BDBDBD"/>
<circle cx="644" cy="60" r="2.1" fill="#BDBDBD"/>
<circle cx="641" cy="45" r="2.1" fill="#BDBDBD"/>
<circle cx="647" cy="72" r="2.1" fill="#BDBDBD"/>
<circle cx="643" cy="74" r="2.1" fill="#BDBDBD"/>
<circle cx="648" cy="80" r="2.1" fill="#BDBDBD"/>
<circle cx="641" cy="92" r="2.1" fill="#BDBDBD"/>
<circle cx="646" cy="97" r="2.1" fill="#BDBDBD"/>
<circle cx="650" cy="93" r="2.1" fill="#BDBDBD"/>
<circle cx="644" cy="100" r="2.1" fill="#BDBDBD"/>
<circle cx="642" cy="97" r="2.1" fill="#BDBDBD"/>
<circle cx="642" cy="38" r="2.1" fill="#BDBDBD"/>
<circle cx="643" cy="41" r="2.1" fill="#BDBDBD"/>
<circle cx="644.5" cy="44.5" r="2.1" fill="#BDBDBD"/>
<circle cx="640" cy="43" r="2.1" fill="#BDBDBD"/>
<circle cx="645" cy="70" r="2.1" fill="#BDBDBD"/>
<circle cx="648" cy="73" r="2.1" fill="#BDBDBD"/>
<circle cx="643" cy="78" r="2.1" fill="#BDBDBD"/>
<circle cx="646" cy="80" r="2.1" fill="#BDBDBD"/>
<circle cx="640" cy="84" r="2.1" fill="#BDBDBD"/>
<circle cx="643" cy="88" r="2.1" fill="#BDBDBD"/>
<circle cx="646" cy="92" r="2.1" fill="#BDBDBD"/>
<circle cx="641" cy="96" r="2.1" fill="#BDBDBD"/>
<circle cx="644" cy="97" r="2.1" fill="#BDBDBD"/>
<circle cx="648" cy="95" r="2.1" fill="#BDBDBD"/>
<circle cx="650" cy="99" r="2.1" fill="#BDBDBD"/>
<circle cx="647" cy="101" r="2.1" fill="#BDBDBD"/>
<circle cx="655" cy="84" r="2.1" fill="#BDBDBD"/>
<circle cx="656" cy="81" r="2.1" fill="#BDBDBD"/>
<circle cx="655.5" cy="88" r="2.1" fill="#BDBDBD"/>
<circle cx="639" cy="15.1" r="2.75" fill="#C9291F"/>
<circle cx="637.5" cy="32.5" r="2.75" fill="#C9291F"/>
<circle cx="639" cy="58.1" r="2.75" fill="#C9291F"/>
<circle cx="639.8" cy="59.8" r="2.75" fill="#C9291F"/>
<circle cx="625.7" cy="67.2" r="2.75" fill="#C9291F"/>
<circle cx="626.1" cy="69.4" r="2.75" fill="#C9291F"/>
<circle cx="641.7" cy="71.8" r="2.75" fill="#C9291F"/>
<circle cx="582.5" cy="38.2" r="2.75" fill="#C9291F"/>
<circle cx="652.5" cy="42" r="2.75" fill="#ECA65A"/>
<circle cx="651.8" cy="72.5" r="2.75" fill="#ECA65A"/>
<circle cx="654.1" cy="84.6" r="2.75" fill="#ECA65A"/>
<circle cx="649.5" cy="86.1" r="2.75" fill="#ECA65A"/>
<circle cx="639.4" cy="4.5" r="2.75" fill="#4A6DF0"/>
<circle cx="646.5" cy="6.8" r="2.75" fill="#4A6DF0"/>
<circle cx="645.8" cy="42" r="2.75" fill="#4A6DF0"/>
<circle cx="649.5" cy="47.1" r="2.75" fill="#4A6DF0"/>
<circle cx="651.8" cy="61.1" r="2.75" fill="#4A6DF0"/>
<circle cx="650.3" cy="91" r="2.75" fill="#4A6DF0"/>
<circle cx="651" cy="96.4" r="2.75" fill="#4A6DF0"/>
<circle cx="653.3" cy="99" r="2.75" fill="#4A6DF0"/>
<circle cx="660.1" cy="75.3" r="2.55" fill="#BDBDBD" stroke="#111" stroke-width="0.95"/>
<circle cx="645.8" cy="102" r="2.55" fill="#BDBDBD" stroke="#111" stroke-width="0.95"/>
<circle cx="657.1" cy="115.3" r="2.55" fill="#BDBDBD" stroke="#111" stroke-width="0.95"/>
<circle cx="649.5" cy="119.3" r="2.55" fill="#BDBDBD" stroke="#111" stroke-width="0.95"/>
<circle cx="656.3" cy="58.9" r="2.55" fill="#BDBDBD" stroke="#111" stroke-width="0.95"/>
<circle cx="655.6" cy="52.1" r="2.55" fill="#BDBDBD" stroke="#111" stroke-width="0.95"/>
<circle cx="656.3" cy="55.8" r="2.55" fill="#BDBDBD" stroke="#111" stroke-width="0.95"/>
<circle cx="656.3" cy="65.7" r="2.55" fill="#BDBDBD" stroke="#111" stroke-width="0.95"/>
<circle cx="656.3" cy="80.1" r="2.55" fill="#BDBDBD" stroke="#111" stroke-width="0.95"/>
<circle cx="655.6" cy="83.9" r="2.55" fill="#BDBDBD" stroke="#111" stroke-width="0.95"/>
<circle cx="654.8" cy="88.8" r="2.55" fill="#BDBDBD" stroke="#111" stroke-width="0.95"/>
<circle cx="656.6" cy="101.2" r="2.55" fill="#BDBDBD" stroke="#111" stroke-width="0.95"/>
<circle cx="657.1" cy="105.5" r="2.55" fill="#BDBDBD" stroke="#111" stroke-width="0.95"/>
<circle cx="652.5" cy="51.3" r="2.2" fill="#8EE03C" stroke="#111" stroke-width="0.9"/>
<circle cx="647.7" cy="54" r="2.2" fill="#8EE03C" stroke="#111" stroke-width="0.9"/>
<circle cx="653" cy="54" r="2.2" fill="#8EE03C" stroke="#111" stroke-width="0.9"/>
<circle cx="647.7" cy="65.2" r="2.2" fill="#8EE03C" stroke="#111" stroke-width="0.9"/>
<circle cx="652.7" cy="64.9" r="2.2" fill="#8EE03C" stroke="#111" stroke-width="0.9"/>
<circle cx="652.5" cy="71.3" r="2.2" fill="#8EE03C" stroke="#111" stroke-width="0.9"/>
<circle cx="648.3" cy="75.6" r="2.2" fill="#8EE03C" stroke="#111" stroke-width="0.9"/>
<circle cx="651.3" cy="81.9" r="2.2" fill="#8EE03C" stroke="#111" stroke-width="0.9"/>
<circle cx="646.5" cy="84.3" r="2.2" fill="#8EE03C" stroke="#111" stroke-width="0.9"/>
<circle cx="641.5" cy="99.4" r="2.2" fill="#8EE03C" stroke="#111" stroke-width="0.9"/>
<circle cx="649.8" cy="98.5" r="2.2" fill="#8EE03C" stroke="#111" stroke-width="0.9"/>
<circle cx="653.3" cy="103.5" r="2.2" fill="#8EE03C" stroke="#111" stroke-width="0.9"/>
<circle cx="646.5" cy="111" r="2.2" fill="#8EE03C" stroke="#111" stroke-width="0.9"/>
<circle cx="652.5" cy="113.3" r="2.2" fill="#8EE03C" stroke="#111" stroke-width="0.9"/>
<circle cx="646.5" cy="117.5" r="2.2" fill="#8EE03C" stroke="#111" stroke-width="0.9"/>
<rect x="538.5" y="98.4" width="42.2" height="31.1" fill="#fff" stroke="#3a3a3a" stroke-width="0.95"/>
<line x1="538.5" y1="107.4" x2="580.7" y2="107.4" stroke="#3a3a3a" stroke-width="0.95"/>
<text transform="translate(559.6,105.1) scale(1,1.07)" font-size="6" font-weight="bold" text-anchor="middle" fill="#111" stroke="#111" stroke-width="0.15">WG</text>
<circle cx="549.5" cy="111.6" r="1.9" fill="#C9291F"/>
<text transform="translate(559.8,113.9) scale(1,1.07)" font-size="6" font-weight="bold" fill="#111" stroke="#111" stroke-width="0.15">DW</text>
<circle cx="549.5" cy="118.6" r="1.9" fill="#ECA65A"/>
<text transform="translate(559.8,120.9) scale(1,1.07)" font-size="6" font-weight="bold" fill="#111" stroke="#111" stroke-width="0.15">WGCC</text>
<circle cx="549.5" cy="125.6" r="1.9" fill="#4A6DF0"/>
<text transform="translate(559.8,127.9) scale(1,1.07)" font-size="6" font-weight="bold" fill="#111" stroke="#111" stroke-width="0.15">SCSW</text>
<rect x="534" y="3.3" width="146.2" height="131" fill="none" stroke="#4a4a4a" stroke-width="1.15"/>
<text transform="translate(534,144.6) scale(1,1.07)" font-size="7.1" text-anchor="middle" fill="#262626" stroke="#262626" stroke-width="0.15">-10</text>
<text transform="translate(558.37,144.6) scale(1,1.07)" font-size="7.1" text-anchor="middle" fill="#262626" stroke="#262626" stroke-width="0.15">-8</text>
<text transform="translate(582.73,144.6) scale(1,1.07)" font-size="7.1" text-anchor="middle" fill="#262626" stroke="#262626" stroke-width="0.15">-6</text>
<text transform="translate(607.1,144.6) scale(1,1.07)" font-size="7.1" text-anchor="middle" fill="#262626" stroke="#262626" stroke-width="0.15">-4</text>
<text transform="translate(631.47,144.6) scale(1,1.07)" font-size="7.1" text-anchor="middle" fill="#262626" stroke="#262626" stroke-width="0.15">-2</text>
<text transform="translate(655.83,144.6) scale(1,1.07)" font-size="7.1" text-anchor="middle" fill="#262626" stroke="#262626" stroke-width="0.15">0</text>
<text transform="translate(680.2,144.6) scale(1,1.07)" font-size="7.1" text-anchor="middle" fill="#262626" stroke="#262626" stroke-width="0.15">2</text>
<text transform="translate(531,137.7) scale(1,1.07)" font-size="7.1" text-anchor="end" fill="#262626" stroke="#262626" stroke-width="0.15">-10</text>
<text transform="translate(531,111.5) scale(1,1.07)" font-size="7.1" text-anchor="end" fill="#262626" stroke="#262626" stroke-width="0.15">-5</text>
<text transform="translate(531,85.3) scale(1,1.07)" font-size="7.1" text-anchor="end" fill="#262626" stroke="#262626" stroke-width="0.15">0</text>
<text transform="translate(531,59.1) scale(1,1.07)" font-size="7.1" text-anchor="end" fill="#262626" stroke="#262626" stroke-width="0.15">5</text>
<text transform="translate(531,32.9) scale(1,1.07)" font-size="7.1" text-anchor="end" fill="#262626" stroke="#262626" stroke-width="0.15">10</text>
<text transform="translate(531,6.7) scale(1,1.07)" font-size="7.1" text-anchor="end" fill="#262626" stroke="#262626" stroke-width="0.15">15</text>
<path d="M534 134.3v-2M534 3.3v2M558.37 134.3v-2M558.37 3.3v2M582.73 134.3v-2M582.73 3.3v2M607.1 134.3v-2M607.1 3.3v2M631.47 134.3v-2M631.47 3.3v2M655.83 134.3v-2M655.83 3.3v2M680.2 134.3v-2M680.2 3.3v2M534 134.3h2M680.2 134.3h-2M534 108.1h2M680.2 108.1h-2M534 81.9h2M680.2 81.9h-2M534 55.7h2M680.2 55.7h-2M534 29.5h2M680.2 29.5h-2M534 3.3h2M680.2 3.3h-2" stroke="#333" stroke-width="1.0" fill="none"/>
<text x="536.8" y="15.9" font-size="10" font-weight="bold" fill="#111">d</text>
<rect x="28.5" y="159" width="146.2" height="131" fill="#fff"/>
<circle cx="161" cy="174.3" r="2.1" fill="#BDBDBD"/>
<circle cx="158.3" cy="185.2" r="2.1" fill="#BDBDBD"/>
<circle cx="153.7" cy="195" r="2.1" fill="#BDBDBD"/>
<circle cx="161.3" cy="195" r="2.1" fill="#BDBDBD"/>
<circle cx="150.7" cy="203.3" r="2.1" fill="#BDBDBD"/>
<circle cx="149.2" cy="211.6" r="2.1" fill="#BDBDBD"/>
<circle cx="133.4" cy="220.6" r="2.1" fill="#BDBDBD"/>
<circle cx="128.1" cy="224.4" r="2.1" fill="#BDBDBD"/>
<circle cx="160.5" cy="219.9" r="2.1" fill="#BDBDBD"/>
<circle cx="150.4" cy="216.1" r="2.1" fill="#BDBDBD"/>
<circle cx="133.4" cy="223" r="2.1" fill="#BDBDBD"/>
<circle cx="136.4" cy="223.8" r="2.1" fill="#BDBDBD"/>
<circle cx="138.7" cy="227.5" r="2.1" fill="#BDBDBD"/>
<circle cx="148.5" cy="226" r="2.1" fill="#BDBDBD"/>
<circle cx="149.5" cy="229.1" r="2.1" fill="#BDBDBD"/>
<circle cx="147.4" cy="230.6" r="2.1" fill="#BDBDBD"/>
<circle cx="161.3" cy="221.5" r="2.1" fill="#BDBDBD"/>
<circle cx="153.7" cy="238.9" r="2.1" fill="#BDBDBD"/>
<circle cx="131.9" cy="239.6" r="2.1" fill="#BDBDBD"/>
<circle cx="137.9" cy="239.6" r="2.1" fill="#BDBDBD"/>
<circle cx="138.4" cy="241.9" r="2.1" fill="#BDBDBD"/>
<circle cx="128.9" cy="244.1" r="2.1" fill="#BDBDBD"/>
<circle cx="128.1" cy="247.2" r="2.1" fill="#BDBDBD"/>
<circle cx="131.9" cy="247.9" r="2.1" fill="#BDBDBD"/>
<circle cx="127.8" cy="250.2" r="2.1" fill="#BDBDBD"/>
<circle cx="131.1" cy="250.2" r="2.1" fill="#BDBDBD"/>
<circle cx="128.1" cy="252.4" r="2.1" fill="#BDBDBD"/>
<circle cx="132.3" cy="253.5" r="2.1" fill="#BDBDBD"/>
<circle cx="127.3" cy="257" r="2.1" fill="#BDBDBD"/>
<circle cx="161" cy="210" r="2.1" fill="#BDBDBD"/>
<circle cx="162" cy="214" r="2.1" fill="#BDBDBD"/>
<circle cx="157" cy="212" r="2.1" fill="#BDBDBD"/>
<circle cx="162" cy="200" r="2.1" fill="#BDBDBD"/>
<circle cx="152" cy="221" r="2.1" fill="#BDBDBD"/>
<circle cx="156" cy="218" r="2.1" fill="#BDBDBD"/>
<circle cx="160" cy="228" r="2.1" fill="#BDBDBD"/>
<circle cx="163" cy="230" r="2.1" fill="#BDBDBD"/>
<circle cx="145" cy="223" r="2.1" fill="#BDBDBD"/>
<circle cx="151" cy="224" r="2.1" fill="#BDBDBD"/>
<circle cx="154" cy="226" r="2.1" fill="#BDBDBD"/>
<circle cx="162" cy="187" r="2.1" fill="#BDBDBD"/>
<circle cx="156" cy="192" r="2.1" fill="#BDBDBD"/>
<circle cx="163" cy="207" r="2.1" fill="#BDBDBD"/>
<circle cx="158" cy="232" r="2.1" fill="#BDBDBD"/>
<circle cx="162.5" cy="197" r="2.1" fill="#BDBDBD"/>
<circle cx="163" cy="206" r="2.1" fill="#BDBDBD"/>
<circle cx="162" cy="218" r="2.1" fill="#BDBDBD"/>
<circle cx="160" cy="222" r="2.1" fill="#BDBDBD"/>
<circle cx="150" cy="225" r="2.1" fill="#BDBDBD"/>
<circle cx="152" cy="228" r="2.1" fill="#BDBDBD"/>
<circle cx="147" cy="227" r="2.1" fill="#BDBDBD"/>
<circle cx="156" cy="235" r="2.1" fill="#BDBDBD"/>
<circle cx="144.4" cy="221.7" r="2.75" fill="#C9291F"/>
<circle cx="126.9" cy="260.4" r="2.75" fill="#C9291F"/>
<circle cx="159.8" cy="235.8" r="2.75" fill="#ECA65A"/>
<circle cx="120.3" cy="254.4" r="2.75" fill="#ECA65A"/>
<circle cx="137.5" cy="258.2" r="2.75" fill="#ECA65A"/>
<circle cx="96.9" cy="261.4" r="2.75" fill="#ECA65A"/>
<circle cx="108.2" cy="264.9" r="2.75" fill="#ECA65A"/>
<circle cx="87.2" cy="270.6" r="2.75" fill="#ECA65A"/>
<circle cx="61.6" cy="286.8" r="2.75" fill="#ECA65A"/>
<circle cx="50.2" cy="284.3" r="2.75" fill="#ECA65A"/>
<circle cx="157.5" cy="171.3" r="2.75" fill="#4A6DF0"/>
<circle cx="160.5" cy="188.2" r="2.75" fill="#4A6DF0"/>
<circle cx="158.6" cy="191.2" r="2.75" fill="#4A6DF0"/>
<circle cx="157.1" cy="197.5" r="2.75" fill="#4A6DF0"/>
<circle cx="152.7" cy="199.5" r="2.75" fill="#4A6DF0"/>
<circle cx="161" cy="203.3" r="2.75" fill="#4A6DF0"/>
<circle cx="155.3" cy="204.8" r="2.75" fill="#4A6DF0"/>
<circle cx="154.5" cy="209.3" r="2.75" fill="#4A6DF0"/>
<circle cx="158" cy="207.5" r="2.75" fill="#4A6DF0"/>
<circle cx="155.3" cy="215.3" r="2.75" fill="#4A6DF0"/>
<circle cx="129.3" cy="206.7" r="2.75" fill="#4A6DF0"/>
<circle cx="130.8" cy="213.8" r="2.75" fill="#4A6DF0"/>
<circle cx="158.3" cy="223.6" r="2.75" fill="#4A6DF0"/>
<circle cx="130.4" cy="227.8" r="2.75" fill="#4A6DF0"/>
<circle cx="128.4" cy="234.3" r="2.75" fill="#4A6DF0"/>
<circle cx="158" cy="225.3" r="2.75" fill="#4A6DF0"/>
<circle cx="160.5" cy="225.7" r="2.75" fill="#4A6DF0"/>
<circle cx="156.5" cy="230.3" r="2.75" fill="#4A6DF0"/>
<circle cx="158" cy="180.3" r="2.55" fill="#BDBDBD" stroke="#111" stroke-width="0.95"/>
<circle cx="159.5" cy="212.8" r="2.55" fill="none" stroke="#111" stroke-width="0.95"/>
<line x1="127.3" y1="241.1" x2="162" y2="207.8" stroke="#151515" stroke-width="1.05"/>
<rect x="33.1" y="254.1" width="41.8" height="31.1" fill="#fff" stroke="#3a3a3a" stroke-width="0.95"/>
<line x1="33.1" y1="263.1" x2="74.9" y2="263.1" stroke="#3a3a3a" stroke-width="0.95"/>
<text transform="translate(54,260.8) scale(1,1.07)" font-size="6" font-weight="bold" text-anchor="middle" fill="#111" stroke="#111" stroke-width="0.15">EH</text>
<circle cx="44.1" cy="267.3" r="1.9" fill="#C9291F"/>
<text transform="translate(54.4,269.6) scale(1,1.07)" font-size="6" font-weight="bold" fill="#111" stroke="#111" stroke-width="0.15">DW</text>
<circle cx="44.1" cy="274.3" r="1.9" fill="#ECA65A"/>
<text transform="translate(54.4,276.6) scale(1,1.07)" font-size="6" font-weight="bold" fill="#111" stroke="#111" stroke-width="0.15">WGCC</text>
<circle cx="44.1" cy="281.3" r="1.9" fill="#4A6DF0"/>
<text transform="translate(54.4,283.6) scale(1,1.07)" font-size="6" font-weight="bold" fill="#111" stroke="#111" stroke-width="0.15">SCSW</text>
<rect x="28.5" y="159" width="146.2" height="131" fill="none" stroke="#4a4a4a" stroke-width="1.15"/>
<text transform="translate(28.5,300.3) scale(1,1.07)" font-size="7.1" text-anchor="middle" fill="#262626" stroke="#262626" stroke-width="0.15">31</text>
<text transform="translate(65.05,300.3) scale(1,1.07)" font-size="7.1" text-anchor="middle" fill="#262626" stroke="#262626" stroke-width="0.15">32</text>
<text transform="translate(101.6,300.3) scale(1,1.07)" font-size="7.1" text-anchor="middle" fill="#262626" stroke="#262626" stroke-width="0.15">33</text>
<text transform="translate(138.15,300.3) scale(1,1.07)" font-size="7.1" text-anchor="middle" fill="#262626" stroke="#262626" stroke-width="0.15">34</text>
<text transform="translate(174.7,300.3) scale(1,1.07)" font-size="7.1" text-anchor="middle" fill="#262626" stroke="#262626" stroke-width="0.15">35</text>
<text transform="translate(25.5,293.4) scale(1,1.07)" font-size="7.1" text-anchor="end" fill="#262626" stroke="#262626" stroke-width="0.15">-0.5</text>
<text transform="translate(25.5,249.73) scale(1,1.07)" font-size="7.1" text-anchor="end" fill="#262626" stroke="#262626" stroke-width="0.15">0</text>
<text transform="translate(25.5,206.07) scale(1,1.07)" font-size="7.1" text-anchor="end" fill="#262626" stroke="#262626" stroke-width="0.15">0.5</text>
<text transform="translate(25.5,162.4) scale(1,1.07)" font-size="7.1" text-anchor="end" fill="#262626" stroke="#262626" stroke-width="0.15">1</text>
<path d="M28.5 290v-2M28.5 159v2M65.05 290v-2M65.05 159v2M101.6 290v-2M101.6 159v2M138.15 290v-2M138.15 159v2M174.7 290v-2M174.7 159v2M28.5 290h2M174.7 290h-2M28.5 246.33h2M174.7 246.33h-2M28.5 202.67h2M174.7 202.67h-2M28.5 159h2M174.7 159h-2" stroke="#333" stroke-width="1.0" fill="none"/>
<text x="31.3" y="171.6" font-size="10" font-weight="bold" fill="#111">e</text>
<rect x="196.7" y="159" width="146.2" height="131" fill="#fff"/>
<circle cx="250.7" cy="258.6" r="2.1" fill="#BDBDBD"/>
<circle cx="259.1" cy="260.7" r="2.1" fill="#BDBDBD"/>
<circle cx="261.2" cy="255.1" r="2.1" fill="#BDBDBD"/>
<circle cx="263.7" cy="255.8" r="2.1" fill="#BDBDBD"/>
<circle cx="269.6" cy="258.6" r="2.1" fill="#BDBDBD"/>
<circle cx="271" cy="262.1" r="2.1" fill="#BDBDBD"/>
<circle cx="275.9" cy="262.1" r="2.1" fill="#BDBDBD"/>
<circle cx="261.2" cy="264.9" r="2.1" fill="#BDBDBD"/>
<circle cx="268.2" cy="268.4" r="2.1" fill="#BDBDBD"/>
<circle cx="271" cy="271.2" r="2.1" fill="#BDBDBD"/>
<circle cx="256.3" cy="273.3" r="2.1" fill="#BDBDBD"/>
<circle cx="280.1" cy="271.2" r="2.1" fill="#BDBDBD"/>
<circle cx="283.6" cy="274.7" r="2.1" fill="#BDBDBD"/>
<circle cx="246.1" cy="260.7" r="2.1" fill="#BDBDBD"/>
<circle cx="250.3" cy="258.6" r="2.1" fill="#BDBDBD"/>
<circle cx="244" cy="274.7" r="2.1" fill="#BDBDBD"/>
<circle cx="256" cy="273.3" r="2.1" fill="#BDBDBD"/>
<circle cx="258.8" cy="260.7" r="2.1" fill="#BDBDBD"/>
<circle cx="260.9" cy="254.4" r="2.1" fill="#BDBDBD"/>
<circle cx="265.1" cy="260" r="2.1" fill="#BDBDBD"/>
<circle cx="260.9" cy="265.6" r="2.1" fill="#BDBDBD"/>
<circle cx="267.9" cy="268.4" r="2.1" fill="#BDBDBD"/>
<circle cx="271.4" cy="271.2" r="2.1" fill="#BDBDBD"/>
<circle cx="270.7" cy="258.3" r="2.1" fill="#BDBDBD"/>
<circle cx="276.3" cy="262.1" r="2.1" fill="#BDBDBD"/>
<circle cx="280.5" cy="272" r="2.1" fill="#BDBDBD"/>
<circle cx="284" cy="274.7" r="2.1" fill="#BDBDBD"/>
<circle cx="284.7" cy="262.1" r="2.1" fill="#BDBDBD"/>
<circle cx="286.8" cy="267.7" r="2.1" fill="#BDBDBD"/>
<circle cx="252" cy="265" r="2.1" fill="#BDBDBD"/>
<circle cx="265" cy="264" r="2.1" fill="#BDBDBD"/>
<circle cx="278" cy="266" r="2.1" fill="#BDBDBD"/>
<circle cx="307.4" cy="257.9" r="2.1" fill="#BDBDBD"/>
<circle cx="310.5" cy="252.5" r="2.1" fill="#BDBDBD"/>
<circle cx="312.5" cy="255.5" r="2.1" fill="#BDBDBD"/>
<circle cx="309" cy="250" r="2.1" fill="#BDBDBD"/>
<circle cx="301.81" cy="261.94" r="2.1" fill="#BDBDBD"/>
<circle cx="319.8" cy="260.41" r="2.1" fill="#BDBDBD"/>
<circle cx="313.47" cy="266.13" r="2.1" fill="#BDBDBD"/>
<circle cx="287.19" cy="268.1" r="2.1" fill="#BDBDBD"/>
<circle cx="286.06" cy="267.07" r="2.1" fill="#BDBDBD"/>
<circle cx="287.84" cy="262.27" r="2.1" fill="#BDBDBD"/>
<circle cx="307.35" cy="275.12" r="2.1" fill="#BDBDBD"/>
<circle cx="290.81" cy="264.13" r="2.1" fill="#BDBDBD"/>
<circle cx="318.51" cy="277.48" r="2.1" fill="#BDBDBD"/>
<circle cx="315.74" cy="266.74" r="2.1" fill="#BDBDBD"/>
<circle cx="337.69" cy="255.75" r="2.1" fill="#BDBDBD"/>
<circle cx="331.22" cy="259.63" r="2.1" fill="#BDBDBD"/>
<circle cx="291.93" cy="262.65" r="2.1" fill="#BDBDBD"/>
<circle cx="300.97" cy="274.91" r="2.1" fill="#BDBDBD"/>
<circle cx="293.94" cy="269.14" r="2.1" fill="#BDBDBD"/>
<circle cx="319.14" cy="266.26" r="2.1" fill="#BDBDBD"/>
<circle cx="314.13" cy="260.22" r="2.1" fill="#BDBDBD"/>
<circle cx="287.28" cy="263.88" r="2.1" fill="#BDBDBD"/>
<circle cx="321.42" cy="267.34" r="2.1" fill="#BDBDBD"/>
<circle cx="301.28" cy="270.42" r="2.1" fill="#BDBDBD"/>
<circle cx="308.93" cy="264.85" r="2.1" fill="#BDBDBD"/>
<circle cx="327.69" cy="266.18" r="2.1" fill="#BDBDBD"/>
<circle cx="297.43" cy="270.2" r="2.1" fill="#BDBDBD"/>
<circle cx="312.89" cy="276.07" r="2.1" fill="#BDBDBD"/>
<circle cx="324.12" cy="259.61" r="2.1" fill="#BDBDBD"/>
<circle cx="337.91" cy="256.89" r="2.1" fill="#BDBDBD"/>
<circle cx="307" cy="273.76" r="2.1" fill="#BDBDBD"/>
<circle cx="292.36" cy="267.85" r="2.1" fill="#BDBDBD"/>
<circle cx="286.16" cy="270.36" r="2.1" fill="#BDBDBD"/>
<circle cx="326.05" cy="264.17" r="2.1" fill="#BDBDBD"/>
<circle cx="332.15" cy="260.02" r="2.1" fill="#BDBDBD"/>
<circle cx="322.24" cy="264.51" r="2.1" fill="#BDBDBD"/>
<circle cx="315.89" cy="267.9" r="2.1" fill="#BDBDBD"/>
<circle cx="330.2" cy="270.11" r="2.1" fill="#BDBDBD"/>
<circle cx="310.08" cy="271.95" r="2.1" fill="#BDBDBD"/>
<circle cx="287.34" cy="270.82" r="2.1" fill="#BDBDBD"/>
<circle cx="319.59" cy="278.37" r="2.1" fill="#BDBDBD"/>
<circle cx="329.21" cy="259.55" r="2.1" fill="#BDBDBD"/>
<circle cx="305.22" cy="272.04" r="2.1" fill="#BDBDBD"/>
<circle cx="285.24" cy="267.46" r="2.1" fill="#BDBDBD"/>
<circle cx="293.24" cy="262.64" r="2.1" fill="#BDBDBD"/>
<circle cx="287.24" cy="271.76" r="2.1" fill="#BDBDBD"/>
<circle cx="291.11" cy="264.47" r="2.1" fill="#BDBDBD"/>
<circle cx="305.5" cy="275.99" r="2.1" fill="#BDBDBD"/>
<circle cx="288.43" cy="267.29" r="2.1" fill="#BDBDBD"/>
<circle cx="314.22" cy="276.23" r="2.1" fill="#BDBDBD"/>
<circle cx="329.06" cy="268.82" r="2.1" fill="#BDBDBD"/>
<circle cx="299.31" cy="267.1" r="2.1" fill="#BDBDBD"/>
<circle cx="303.73" cy="276.24" r="2.1" fill="#BDBDBD"/>
<circle cx="336.68" cy="257.41" r="2.1" fill="#BDBDBD"/>
<circle cx="293.69" cy="264.25" r="2.1" fill="#BDBDBD"/>
<circle cx="296.83" cy="268.46" r="2.1" fill="#BDBDBD"/>
<circle cx="316.4" cy="264.12" r="2.1" fill="#BDBDBD"/>
<circle cx="284.23" cy="266.87" r="2.1" fill="#BDBDBD"/>
<circle cx="304.31" cy="270.04" r="2.1" fill="#BDBDBD"/>
<circle cx="336.42" cy="266.05" r="2.1" fill="#BDBDBD"/>
<circle cx="312.35" cy="271.04" r="2.1" fill="#BDBDBD"/>
<circle cx="321.19" cy="260.05" r="2.1" fill="#BDBDBD"/>
<circle cx="333.47" cy="267.48" r="2.1" fill="#BDBDBD"/>
<circle cx="332.1" cy="267.77" r="2.1" fill="#BDBDBD"/>
<circle cx="305.58" cy="266.78" r="2.1" fill="#BDBDBD"/>
<circle cx="289.69" cy="269.88" r="2.1" fill="#BDBDBD"/>
<circle cx="287.42" cy="261.94" r="2.1" fill="#BDBDBD"/>
<circle cx="295.48" cy="263.27" r="2.1" fill="#BDBDBD"/>
<circle cx="302.7" cy="260.03" r="2.1" fill="#BDBDBD"/>
<circle cx="284.01" cy="263.12" r="2.1" fill="#BDBDBD"/>
<circle cx="289.58" cy="266.09" r="2.1" fill="#BDBDBD"/>
<circle cx="285.4" cy="273.24" r="2.1" fill="#BDBDBD"/>
<circle cx="317.77" cy="261.9" r="2.1" fill="#BDBDBD"/>
<circle cx="297.87" cy="265.77" r="2.1" fill="#BDBDBD"/>
<circle cx="304.03" cy="261.4" r="2.1" fill="#BDBDBD"/>
<circle cx="330.69" cy="270.89" r="2.1" fill="#BDBDBD"/>
<circle cx="309.63" cy="268.43" r="2.1" fill="#BDBDBD"/>
<circle cx="288.72" cy="262.43" r="2.1" fill="#BDBDBD"/>
<circle cx="302.84" cy="264.16" r="2.1" fill="#BDBDBD"/>
<circle cx="329.59" cy="257.58" r="2.1" fill="#BDBDBD"/>
<circle cx="285.27" cy="274.31" r="2.1" fill="#BDBDBD"/>
<circle cx="313.05" cy="261.86" r="2.1" fill="#BDBDBD"/>
<circle cx="313.87" cy="259.53" r="2.1" fill="#BDBDBD"/>
<circle cx="313.05" cy="278.08" r="2.1" fill="#BDBDBD"/>
<circle cx="331.48" cy="266.14" r="2.1" fill="#BDBDBD"/>
<circle cx="298.36" cy="266.15" r="2.1" fill="#BDBDBD"/>
<circle cx="293.19" cy="271.81" r="2.1" fill="#BDBDBD"/>
<circle cx="313.29" cy="274.19" r="2.1" fill="#BDBDBD"/>
<circle cx="302.13" cy="263.35" r="2.1" fill="#BDBDBD"/>
<circle cx="328.63" cy="270.76" r="2.1" fill="#BDBDBD"/>
<circle cx="330.89" cy="267.9" r="2.1" fill="#BDBDBD"/>
<circle cx="329.01" cy="266.84" r="2.1" fill="#BDBDBD"/>
<circle cx="296.47" cy="269.09" r="2.1" fill="#BDBDBD"/>
<circle cx="303.56" cy="259.57" r="2.1" fill="#BDBDBD"/>
<circle cx="285.54" cy="264.91" r="2.1" fill="#BDBDBD"/>
<circle cx="298.25" cy="272.5" r="2.1" fill="#BDBDBD"/>
<circle cx="336.61" cy="262.16" r="2.1" fill="#BDBDBD"/>
<circle cx="335.54" cy="270.81" r="2.1" fill="#BDBDBD"/>
<circle cx="336.53" cy="260.83" r="2.1" fill="#BDBDBD"/>
<circle cx="296.13" cy="263.42" r="2.1" fill="#BDBDBD"/>
<circle cx="294.82" cy="263.86" r="2.1" fill="#BDBDBD"/>
<circle cx="318.32" cy="276.56" r="2.1" fill="#BDBDBD"/>
<circle cx="330.22" cy="262.67" r="2.1" fill="#BDBDBD"/>
<circle cx="319.91" cy="274.59" r="2.1" fill="#BDBDBD"/>
<circle cx="288.66" cy="270.25" r="2.1" fill="#BDBDBD"/>
<circle cx="334.04" cy="267.52" r="2.1" fill="#BDBDBD"/>
<circle cx="325.26" cy="262.65" r="2.1" fill="#BDBDBD"/>
<circle cx="293.82" cy="272.05" r="2.1" fill="#BDBDBD"/>
<circle cx="302.29" cy="274.62" r="2.1" fill="#BDBDBD"/>
<circle cx="337.44" cy="261.33" r="2.1" fill="#BDBDBD"/>
<circle cx="306.08" cy="277.46" r="2.1" fill="#BDBDBD"/>
<circle cx="323.86" cy="257.72" r="2.1" fill="#BDBDBD"/>
<circle cx="290.99" cy="263.12" r="2.1" fill="#BDBDBD"/>
<circle cx="333.77" cy="267.9" r="2.1" fill="#BDBDBD"/>
<circle cx="292.04" cy="272.57" r="2.1" fill="#BDBDBD"/>
<circle cx="337.92" cy="265.52" r="2.1" fill="#BDBDBD"/>
<circle cx="303.27" cy="269.7" r="2.1" fill="#BDBDBD"/>
<circle cx="291.2" cy="261.2" r="2.1" fill="#BDBDBD"/>
<circle cx="337.4" cy="265.39" r="2.1" fill="#BDBDBD"/>
<circle cx="312.96" cy="277.21" r="2.1" fill="#BDBDBD"/>
<circle cx="307.86" cy="276" r="2.1" fill="#BDBDBD"/>
<circle cx="329.44" cy="258.38" r="2.1" fill="#BDBDBD"/>
<circle cx="297.85" cy="264.71" r="2.1" fill="#BDBDBD"/>
<circle cx="297.23" cy="270.44" r="2.1" fill="#BDBDBD"/>
<circle cx="298.27" cy="267.17" r="2.1" fill="#BDBDBD"/>
<circle cx="291.21" cy="273.74" r="2.1" fill="#BDBDBD"/>
<circle cx="303.46" cy="267.93" r="2.1" fill="#BDBDBD"/>
<circle cx="316.08" cy="276.63" r="2.1" fill="#BDBDBD"/>
<circle cx="307.13" cy="276.9" r="2.1" fill="#BDBDBD"/>
<circle cx="311.59" cy="269.37" r="2.1" fill="#BDBDBD"/>
<circle cx="312.79" cy="259.36" r="2.1" fill="#BDBDBD"/>
<circle cx="308.21" cy="262.57" r="2.1" fill="#BDBDBD"/>
<circle cx="284.22" cy="272.19" r="2.1" fill="#BDBDBD"/>
<circle cx="293.48" cy="267.63" r="2.1" fill="#BDBDBD"/>
<circle cx="323.89" cy="263.9" r="2.1" fill="#BDBDBD"/>
<circle cx="301.93" cy="269.11" r="2.1" fill="#BDBDBD"/>
<circle cx="314.55" cy="274.29" r="2.1" fill="#BDBDBD"/>
<circle cx="289.84" cy="268.84" r="2.1" fill="#BDBDBD"/>
<circle cx="297.67" cy="264.4" r="2.1" fill="#BDBDBD"/>
<circle cx="326.47" cy="263.12" r="2.1" fill="#BDBDBD"/>
<circle cx="314.9" cy="273.82" r="2.1" fill="#BDBDBD"/>
<circle cx="334.19" cy="262.09" r="2.1" fill="#BDBDBD"/>
<circle cx="317.69" cy="268.86" r="2.1" fill="#BDBDBD"/>
<circle cx="312.17" cy="272.51" r="2.1" fill="#BDBDBD"/>
<circle cx="308.88" cy="269.4" r="2.1" fill="#BDBDBD"/>
<circle cx="310.29" cy="277.36" r="2.1" fill="#BDBDBD"/>
<circle cx="322.46" cy="269.02" r="2.1" fill="#BDBDBD"/>
<circle cx="335.82" cy="259.15" r="2.1" fill="#BDBDBD"/>
<circle cx="314.77" cy="277.39" r="2.1" fill="#BDBDBD"/>
<circle cx="330.2" cy="257.19" r="2.1" fill="#BDBDBD"/>
<circle cx="290.69" cy="267.19" r="2.1" fill="#BDBDBD"/>
<circle cx="287.99" cy="264.37" r="2.1" fill="#BDBDBD"/>
<circle cx="288.02" cy="270.37" r="2.1" fill="#BDBDBD"/>
<circle cx="327.12" cy="269.35" r="2.1" fill="#BDBDBD"/>
<circle cx="292.49" cy="271.03" r="2.1" fill="#BDBDBD"/>
<circle cx="320.31" cy="261.79" r="2.1" fill="#BDBDBD"/>
<circle cx="332.56" cy="270.48" r="2.1" fill="#BDBDBD"/>
<circle cx="296.08" cy="277.57" r="2.1" fill="#BDBDBD"/>
<circle cx="305.9" cy="268.5" r="2.1" fill="#BDBDBD"/>
<circle cx="338.44" cy="268.32" r="2.1" fill="#BDBDBD"/>
<circle cx="292.88" cy="267.04" r="2.1" fill="#BDBDBD"/>
<circle cx="312.36" cy="265.61" r="2.1" fill="#BDBDBD"/>
<circle cx="294.77" cy="265.46" r="2.1" fill="#BDBDBD"/>
<circle cx="323.72" cy="255.31" r="2.1" fill="#BDBDBD"/>
<circle cx="314.47" cy="267.59" r="2.1" fill="#BDBDBD"/>
<circle cx="284.99" cy="265.64" r="2.1" fill="#BDBDBD"/>
<circle cx="318.32" cy="268.99" r="2.1" fill="#BDBDBD"/>
<circle cx="287.54" cy="274.79" r="2.1" fill="#BDBDBD"/>
<circle cx="327.36" cy="270.55" r="2.1" fill="#BDBDBD"/>
<circle cx="289.76" cy="264.72" r="2.1" fill="#BDBDBD"/>
<circle cx="286.18" cy="271.91" r="2.1" fill="#BDBDBD"/>
<circle cx="298.87" cy="261.53" r="2.1" fill="#BDBDBD"/>
<circle cx="307.22" cy="276.77" r="2.1" fill="#BDBDBD"/>
<circle cx="329.04" cy="259.14" r="2.1" fill="#BDBDBD"/>
<circle cx="295.5" cy="267" r="2.75" fill="#C9291F"/>
<circle cx="298.3" cy="267" r="2.75" fill="#C9291F"/>
<circle cx="309.5" cy="269.1" r="2.75" fill="#C9291F"/>
<circle cx="325" cy="261.7" r="2.75" fill="#C9291F"/>
<circle cx="296.5" cy="268.5" r="2.75" fill="#C9291F"/>
<circle cx="278" cy="254.7" r="2.75" fill="#ECA65A"/>
<circle cx="294.6" cy="257.9" r="2.75" fill="#ECA65A"/>
<circle cx="286.4" cy="262.8" r="2.75" fill="#ECA65A"/>
<circle cx="329.2" cy="251.6" r="2.75" fill="#ECA65A"/>
<circle cx="335.5" cy="251.6" r="2.75" fill="#ECA65A"/>
<circle cx="332.5" cy="250.2" r="2.75" fill="#ECA65A"/>
<circle cx="318.7" cy="267" r="2.75" fill="#ECA65A"/>
<circle cx="296.9" cy="265.6" r="2.75" fill="#ECA65A"/>
<circle cx="306" cy="250.5" r="2.75" fill="#ECA65A"/>
<circle cx="289.9" cy="256.5" r="2.75" fill="#4A6DF0"/>
<circle cx="300.4" cy="257.9" r="2.75" fill="#4A6DF0"/>
<circle cx="303.2" cy="263.5" r="2.75" fill="#4A6DF0"/>
<circle cx="315.9" cy="253.7" r="2.75" fill="#4A6DF0"/>
<circle cx="315.9" cy="258.6" r="2.75" fill="#4A6DF0"/>
<circle cx="310.2" cy="265.6" r="2.75" fill="#4A6DF0"/>
<circle cx="314.5" cy="265.6" r="2.75" fill="#4A6DF0"/>
<circle cx="312.4" cy="261.4" r="2.75" fill="#4A6DF0"/>
<circle cx="306" cy="264" r="2.75" fill="#4A6DF0"/>
<circle cx="300.5" cy="260.5" r="2.75" fill="#4A6DF0"/>
<circle cx="299.6" cy="182.4" r="2.7" fill="#BDBDBD" stroke="#111" stroke-width="0.95"/>
<circle cx="314.9" cy="236.6" r="2.7" fill="#BDBDBD" stroke="#111" stroke-width="0.95"/>
<circle cx="329.9" cy="245.3" r="2.7" fill="#BDBDBD" stroke="#111" stroke-width="0.95"/>
<circle cx="317.7" cy="247.7" r="2.7" fill="#BDBDBD" stroke="#111" stroke-width="0.95"/>
<circle cx="300.2" cy="249.5" r="2.7" fill="#BDBDBD" stroke="#111" stroke-width="0.95"/>
<circle cx="287.6" cy="254" r="2.7" fill="#BDBDBD" stroke="#111" stroke-width="0.95"/>
<circle cx="274.9" cy="256.2" r="2.7" fill="#BDBDBD" stroke="#111" stroke-width="0.95"/>
<circle cx="298.3" cy="262.1" r="2.7" fill="#BDBDBD" stroke="#111" stroke-width="0.95"/>
<circle cx="308.8" cy="249.5" r="2.7" fill="none" stroke="#111" stroke-width="0.95"/>
<circle cx="307.4" cy="257.9" r="2.7" fill="none" stroke="#111" stroke-width="0.95"/>
<circle cx="310.5" cy="252.5" r="2.7" fill="none" stroke="#111" stroke-width="0.95"/>
<circle cx="312.5" cy="255.5" r="2.7" fill="none" stroke="#111" stroke-width="0.95"/>
<circle cx="313.5" cy="259" r="2.7" fill="none" stroke="#111" stroke-width="0.95"/>
<circle cx="314.5" cy="261.5" r="2.7" fill="none" stroke="#111" stroke-width="0.95"/>
<circle cx="303.2" cy="263.5" r="2.7" fill="none" stroke="#111" stroke-width="0.95"/>
<circle cx="315.5" cy="258.2" r="2.7" fill="none" stroke="#111" stroke-width="0.95"/>
<line x1="233" y1="267.5" x2="337.6" y2="262.1" stroke="#151515" stroke-width="1.05"/>
<rect x="201.4" y="254.1" width="41.3" height="31.1" fill="#fff" stroke="#3a3a3a" stroke-width="0.95"/>
<line x1="201.4" y1="263.1" x2="242.7" y2="263.1" stroke="#3a3a3a" stroke-width="0.95"/>
<text transform="translate(222.05,260.8) scale(1,1.07)" font-size="6" font-weight="bold" text-anchor="middle" fill="#111" stroke="#111" stroke-width="0.15">LZ</text>
<circle cx="212.4" cy="267.3" r="1.9" fill="#C9291F"/>
<text transform="translate(222.7,269.6) scale(1,1.07)" font-size="6" font-weight="bold" fill="#111" stroke="#111" stroke-width="0.15">CC</text>
<circle cx="212.4" cy="274.3" r="1.9" fill="#ECA65A"/>
<text transform="translate(222.7,276.6) scale(1,1.07)" font-size="6" font-weight="bold" fill="#111" stroke="#111" stroke-width="0.15">KW</text>
<circle cx="212.4" cy="281.3" r="1.9" fill="#4A6DF0"/>
<text transform="translate(222.7,283.6) scale(1,1.07)" font-size="6" font-weight="bold" fill="#111" stroke="#111" stroke-width="0.15">SCSW</text>
<rect x="196.7" y="159" width="146.2" height="131" fill="none" stroke="#4a4a4a" stroke-width="1.15"/>
<text transform="translate(196.7,300.3) scale(1,1.07)" font-size="7.1" text-anchor="middle" fill="#262626" stroke="#262626" stroke-width="0.15">33</text>
<text transform="translate(233.25,300.3) scale(1,1.07)" font-size="7.1" text-anchor="middle" fill="#262626" stroke="#262626" stroke-width="0.15">33.5</text>
<text transform="translate(269.8,300.3) scale(1,1.07)" font-size="7.1" text-anchor="middle" fill="#262626" stroke="#262626" stroke-width="0.15">34</text>
<text transform="translate(306.35,300.3) scale(1,1.07)" font-size="7.1" text-anchor="middle" fill="#262626" stroke="#262626" stroke-width="0.15">34.5</text>
<text transform="translate(342.9,300.3) scale(1,1.07)" font-size="7.1" text-anchor="middle" fill="#262626" stroke="#262626" stroke-width="0.15">35</text>
<text transform="translate(193.7,293.4) scale(1,1.07)" font-size="7.1" text-anchor="end" fill="#262626" stroke="#262626" stroke-width="0.15">-1</text>
<text transform="translate(193.7,267.2) scale(1,1.07)" font-size="7.1" text-anchor="end" fill="#262626" stroke="#262626" stroke-width="0.15">0</text>
<text transform="translate(193.7,241) scale(1,1.07)" font-size="7.1" text-anchor="end" fill="#262626" stroke="#262626" stroke-width="0.15">1</text>
<text transform="translate(193.7,214.8) scale(1,1.07)" font-size="7.1" text-anchor="end" fill="#262626" stroke="#262626" stroke-width="0.15">2</text>
<text transform="translate(193.7,188.6) scale(1,1.07)" font-size="7.1" text-anchor="end" fill="#262626" stroke="#262626" stroke-width="0.15">3</text>
<text transform="translate(193.7,162.4) scale(1,1.07)" font-size="7.1" text-anchor="end" fill="#262626" stroke="#262626" stroke-width="0.15">4</text>
<path d="M196.7 290v-2M196.7 159v2M233.25 290v-2M233.25 159v2M269.8 290v-2M269.8 159v2M306.35 290v-2M306.35 159v2M342.9 290v-2M342.9 159v2M196.7 290h2M342.9 290h-2M196.7 263.8h2M342.9 263.8h-2M196.7 237.6h2M342.9 237.6h-2M196.7 211.4h2M342.9 211.4h-2M196.7 185.2h2M342.9 185.2h-2M196.7 159h2M342.9 159h-2" stroke="#333" stroke-width="1.0" fill="none"/>
<text x="199.5" y="171.6" font-size="10" font-weight="bold" fill="#111">f</text>
<rect x="365.3" y="159" width="146.2" height="131" fill="#fff"/>
<circle cx="482.1" cy="180.7" r="2.1" fill="#BDBDBD"/>
<circle cx="488.9" cy="187" r="2.1" fill="#BDBDBD"/>
<circle cx="491.9" cy="190.9" r="2.1" fill="#BDBDBD"/>
<circle cx="448.9" cy="191.2" r="2.1" fill="#BDBDBD"/>
<circle cx="461.4" cy="195.8" r="2.1" fill="#BDBDBD"/>
<circle cx="486.6" cy="200" r="2.1" fill="#BDBDBD"/>
<circle cx="493.1" cy="199.1" r="2.1" fill="#BDBDBD"/>
<circle cx="478.6" cy="206.3" r="2.1" fill="#BDBDBD"/>
<circle cx="485.6" cy="208.6" r="2.1" fill="#BDBDBD"/>
<circle cx="490.4" cy="207.1" r="2.1" fill="#BDBDBD"/>
<circle cx="492.7" cy="207.5" r="2.1" fill="#BDBDBD"/>
<circle cx="488.1" cy="212.4" r="2.1" fill="#BDBDBD"/>
<circle cx="489.6" cy="216.9" r="2.1" fill="#BDBDBD"/>
<circle cx="497.9" cy="219.6" r="2.1" fill="#BDBDBD"/>
<circle cx="449.6" cy="223.2" r="2.1" fill="#BDBDBD"/>
<circle cx="463.2" cy="224.7" r="2.1" fill="#BDBDBD"/>
<circle cx="478" cy="223.7" r="2.1" fill="#BDBDBD"/>
<circle cx="489.6" cy="221.4" r="2.1" fill="#BDBDBD"/>
<circle cx="439.8" cy="230.6" r="2.1" fill="#BDBDBD"/>
<circle cx="449.9" cy="231.3" r="2.1" fill="#BDBDBD"/>
<circle cx="460.9" cy="226.8" r="2.1" fill="#BDBDBD"/>
<circle cx="487.4" cy="224.5" r="2.1" fill="#BDBDBD"/>
<circle cx="495.7" cy="226.8" r="2.1" fill="#BDBDBD"/>
<circle cx="475.3" cy="234.3" r="2.1" fill="#BDBDBD"/>
<circle cx="476" cy="238.9" r="2.1" fill="#BDBDBD"/>
<circle cx="479.8" cy="241.9" r="2.1" fill="#BDBDBD"/>
<circle cx="488.9" cy="239.6" r="2.1" fill="#BDBDBD"/>
<circle cx="436" cy="238.9" r="2.1" fill="#BDBDBD"/>
<circle cx="451.4" cy="237.4" r="2.1" fill="#BDBDBD"/>
<circle cx="460.9" cy="236.6" r="2.1" fill="#BDBDBD"/>
<circle cx="464" cy="238.1" r="2.1" fill="#BDBDBD"/>
<circle cx="456.4" cy="242.6" r="2.1" fill="#BDBDBD"/>
<circle cx="457.9" cy="244.9" r="2.1" fill="#BDBDBD"/>
<circle cx="446.6" cy="247.2" r="2.1" fill="#BDBDBD"/>
<circle cx="455.7" cy="250.9" r="2.1" fill="#BDBDBD"/>
<circle cx="476.8" cy="249.9" r="2.1" fill="#BDBDBD"/>
<circle cx="485.9" cy="246.9" r="2.1" fill="#BDBDBD"/>
<circle cx="445.9" cy="256.5" r="2.1" fill="#BDBDBD"/>
<circle cx="442.8" cy="260.5" r="2.1" fill="#BDBDBD"/>
<circle cx="442.8" cy="263" r="2.1" fill="#BDBDBD"/>
<circle cx="454.9" cy="260" r="2.1" fill="#BDBDBD"/>
<circle cx="477.6" cy="258.2" r="2.1" fill="#BDBDBD"/>
<circle cx="483.6" cy="259" r="2.1" fill="#BDBDBD"/>
<circle cx="485.6" cy="258.5" r="2.1" fill="#BDBDBD"/>
<circle cx="440.3" cy="268.6" r="2.1" fill="#BDBDBD"/>
<circle cx="443.6" cy="272.8" r="2.1" fill="#BDBDBD"/>
<circle cx="459" cy="281.1" r="2.1" fill="#BDBDBD"/>
<circle cx="382.1" cy="222.5" r="2.1" fill="#BDBDBD"/>
<circle cx="400.6" cy="288.1" r="2.1" fill="#BDBDBD"/>
<circle cx="435.8" cy="238.5" r="2.1" fill="#BDBDBD"/>
<circle cx="439.9" cy="230.7" r="2.1" fill="#BDBDBD"/>
<circle cx="428" cy="260" r="2.1" fill="#BDBDBD"/>
<circle cx="439.9" cy="268.6" r="2.1" fill="#BDBDBD"/>
<circle cx="443" cy="261.5" r="2.1" fill="#BDBDBD"/>
<circle cx="490" cy="214" r="2.1" fill="#BDBDBD"/>
<circle cx="491" cy="210" r="2.1" fill="#BDBDBD"/>
<circle cx="487" cy="219" r="2.1" fill="#BDBDBD"/>
<circle cx="493" cy="223" r="2.1" fill="#BDBDBD"/>
<circle cx="494" cy="228" r="2.1" fill="#BDBDBD"/>
<circle cx="490" cy="232" r="2.1" fill="#BDBDBD"/>
<circle cx="492" cy="236" r="2.1" fill="#BDBDBD"/>
<circle cx="486" cy="235" r="2.1" fill="#BDBDBD"/>
<circle cx="483.6" cy="237.8" r="2.75" fill="#C9291F"/>
<circle cx="481.6" cy="232.4" r="2.75" fill="#ECA65A"/>
<circle cx="488.9" cy="230.6" r="2.75" fill="#ECA65A"/>
<circle cx="490.4" cy="228.8" r="2.75" fill="#ECA65A"/>
<circle cx="469.6" cy="237.1" r="2.75" fill="#ECA65A"/>
<circle cx="483.6" cy="239.6" r="2.75" fill="#ECA65A"/>
<circle cx="487.4" cy="250.9" r="2.75" fill="#ECA65A"/>
<circle cx="484.3" cy="253.2" r="2.75" fill="#ECA65A"/>
<circle cx="448.9" cy="250.9" r="2.75" fill="#ECA65A"/>
<circle cx="449.3" cy="270.3" r="2.75" fill="#ECA65A"/>
<circle cx="491" cy="232" r="2.75" fill="#ECA65A"/>
<circle cx="479.1" cy="175.4" r="2.75" fill="#4A6DF0"/>
<circle cx="488.1" cy="179.6" r="2.75" fill="#4A6DF0"/>
<circle cx="491.1" cy="179.9" r="2.75" fill="#4A6DF0"/>
<circle cx="473" cy="187.5" r="2.75" fill="#4A6DF0"/>
<circle cx="483.6" cy="194.6" r="2.75" fill="#4A6DF0"/>
<circle cx="484.8" cy="203" r="2.75" fill="#4A6DF0"/>
<circle cx="454.9" cy="224.9" r="2.75" fill="#4A6DF0"/>
<circle cx="438" cy="228" r="2.75" fill="#4A6DF0"/>
<circle cx="439.7" cy="245.3" r="2.75" fill="#1D3E80"/>
<circle cx="451.1" cy="260.5" r="2.75" fill="#1D3E80"/>
<circle cx="473.5" cy="229.4" r="2.6" fill="#1D3E80" stroke="#000" stroke-width="0.9"/>
<line x1="400" y1="268.4" x2="497.2" y2="217.2" stroke="#151515" stroke-width="1.05"/>
<rect x="370.2" y="247.1" width="41" height="38.1" fill="#fff" stroke="#3a3a3a" stroke-width="0.95"/>
<line x1="370.2" y1="256.1" x2="411.2" y2="256.1" stroke="#3a3a3a" stroke-width="0.95"/>
<text transform="translate(390.7,253.8) scale(1,1.07)" font-size="6" font-weight="bold" text-anchor="middle" fill="#111" stroke="#111" stroke-width="0.15">PRE</text>
<circle cx="381.2" cy="260.3" r="1.9" fill="#C9291F"/>
<text transform="translate(391.5,262.6) scale(1,1.07)" font-size="6" font-weight="bold" fill="#111" stroke="#111" stroke-width="0.15">DW</text>
<circle cx="381.2" cy="267.3" r="1.9" fill="#ECA65A"/>
<text transform="translate(391.5,269.6) scale(1,1.07)" font-size="6" font-weight="bold" fill="#111" stroke="#111" stroke-width="0.15">SCSW</text>
<circle cx="381.2" cy="274.3" r="1.9" fill="#4A6DF0"/>
<text transform="translate(391.5,276.6) scale(1,1.07)" font-size="6" font-weight="bold" fill="#111" stroke="#111" stroke-width="0.15">KW</text>
<circle cx="381.2" cy="281.3" r="1.9" fill="#1D3E80"/>
<text transform="translate(391.5,283.6) scale(1,1.07)" font-size="6" font-weight="bold" fill="#111" stroke="#111" stroke-width="0.15">CC</text>
<rect x="365.3" y="159" width="146.2" height="131" fill="none" stroke="#4a4a4a" stroke-width="1.15"/>
<text transform="translate(365.3,300.3) scale(1,1.07)" font-size="7.1" text-anchor="middle" fill="#262626" stroke="#262626" stroke-width="0.15">32</text>
<text transform="translate(389.67,300.3) scale(1,1.07)" font-size="7.1" text-anchor="middle" fill="#262626" stroke="#262626" stroke-width="0.15">32.5</text>
<text transform="translate(414.03,300.3) scale(1,1.07)" font-size="7.1" text-anchor="middle" fill="#262626" stroke="#262626" stroke-width="0.15">33</text>
<text transform="translate(438.4,300.3) scale(1,1.07)" font-size="7.1" text-anchor="middle" fill="#262626" stroke="#262626" stroke-width="0.15">33.5</text>
<text transform="translate(462.77,300.3) scale(1,1.07)" font-size="7.1" text-anchor="middle" fill="#262626" stroke="#262626" stroke-width="0.15">34</text>
<text transform="translate(487.13,300.3) scale(1,1.07)" font-size="7.1" text-anchor="middle" fill="#262626" stroke="#262626" stroke-width="0.15">34.5</text>
<text transform="translate(511.5,300.3) scale(1,1.07)" font-size="7.1" text-anchor="middle" fill="#262626" stroke="#262626" stroke-width="0.15">35</text>
<text transform="translate(362.3,293.4) scale(1,1.07)" font-size="7.1" text-anchor="end" fill="#262626" stroke="#262626" stroke-width="0.15">-0.2</text>
<text transform="translate(362.3,271.57) scale(1,1.07)" font-size="7.1" text-anchor="end" fill="#262626" stroke="#262626" stroke-width="0.15">0</text>
<text transform="translate(362.3,249.73) scale(1,1.07)" font-size="7.1" text-anchor="end" fill="#262626" stroke="#262626" stroke-width="0.15">0.2</text>
<text transform="translate(362.3,227.9) scale(1,1.07)" font-size="7.1" text-anchor="end" fill="#262626" stroke="#262626" stroke-width="0.15">0.4</text>
<text transform="translate(362.3,206.07) scale(1,1.07)" font-size="7.1" text-anchor="end" fill="#262626" stroke="#262626" stroke-width="0.15">0.6</text>
<text transform="translate(362.3,184.23) scale(1,1.07)" font-size="7.1" text-anchor="end" fill="#262626" stroke="#262626" stroke-width="0.15">0.8</text>
<text transform="translate(362.3,162.4) scale(1,1.07)" font-size="7.1" text-anchor="end" fill="#262626" stroke="#262626" stroke-width="0.15">1</text>
<path d="M365.3 290v-2M365.3 159v2M389.67 290v-2M389.67 159v2M414.03 290v-2M414.03 159v2M438.4 290v-2M438.4 159v2M462.77 290v-2M462.77 159v2M487.13 290v-2M487.13 159v2M511.5 290v-2M511.5 159v2M365.3 290h2M511.5 290h-2M365.3 268.17h2M511.5 268.17h-2M365.3 246.33h2M511.5 246.33h-2M365.3 224.5h2M511.5 224.5h-2M365.3 202.67h2M511.5 202.67h-2M365.3 180.83h2M511.5 180.83h-2M365.3 159h2M511.5 159h-2" stroke="#333" stroke-width="1.0" fill="none"/>
<text x="368.1" y="171.6" font-size="10" font-weight="bold" fill="#111">g</text>
<rect x="534" y="159" width="146.2" height="131" fill="#fff"/>
<circle cx="625.5" cy="208.2" r="2.1" fill="#BDBDBD"/>
<circle cx="639.4" cy="193.6" r="2.1" fill="#BDBDBD"/>
<circle cx="659.5" cy="204.3" r="2.1" fill="#BDBDBD"/>
<circle cx="652" cy="187" r="2.1" fill="#BDBDBD"/>
<circle cx="655" cy="186" r="2.1" fill="#BDBDBD"/>
<circle cx="658" cy="186.5" r="2.1" fill="#BDBDBD"/>
<circle cx="654" cy="190" r="2.1" fill="#BDBDBD"/>
<circle cx="657" cy="190" r="2.1" fill="#BDBDBD"/>
<circle cx="660" cy="189" r="2.1" fill="#BDBDBD"/>
<circle cx="663" cy="190" r="2.1" fill="#BDBDBD"/>
<circle cx="666" cy="192" r="2.1" fill="#BDBDBD"/>
<circle cx="669" cy="193" r="2.1" fill="#BDBDBD"/>
<circle cx="672" cy="193" r="2.1" fill="#BDBDBD"/>
<circle cx="675" cy="192" r="2.1" fill="#BDBDBD"/>
<circle cx="656" cy="193" r="2.1" fill="#BDBDBD"/>
<circle cx="659" cy="193.5" r="2.1" fill="#BDBDBD"/>
<circle cx="662" cy="194" r="2.1" fill="#BDBDBD"/>
<circle cx="652.5" cy="191" r="2.1" fill="#BDBDBD"/>
<circle cx="678" cy="188" r="2.1" fill="#BDBDBD"/>
<circle cx="660" cy="185" r="2.1" fill="#BDBDBD"/>
<circle cx="664" cy="186" r="2.1" fill="#BDBDBD"/>
<circle cx="655" cy="195" r="2.1" fill="#BDBDBD"/>
<circle cx="670" cy="195" r="2.1" fill="#BDBDBD"/>
<circle cx="674" cy="194" r="2.1" fill="#BDBDBD"/>
<circle cx="653" cy="194" r="2.1" fill="#BDBDBD"/>
<circle cx="677" cy="191" r="2.1" fill="#BDBDBD"/>
<circle cx="668" cy="190" r="2.1" fill="#BDBDBD"/>
<circle cx="650.5" cy="189.5" r="2.1" fill="#BDBDBD"/>
<circle cx="651" cy="186" r="2.1" fill="#BDBDBD"/>
<circle cx="657" cy="184" r="2.1" fill="#BDBDBD"/>
<circle cx="661" cy="192" r="2.1" fill="#BDBDBD"/>
<circle cx="664.5" cy="193" r="2.1" fill="#BDBDBD"/>
<circle cx="671" cy="191" r="2.1" fill="#BDBDBD"/>
<circle cx="676" cy="189" r="2.1" fill="#BDBDBD"/>
<circle cx="660.8" cy="181.2" r="2.1" fill="#BDBDBD"/>
<circle cx="664.2" cy="179.7" r="2.1" fill="#BDBDBD"/>
<circle cx="669.5" cy="180.8" r="2.1" fill="#BDBDBD"/>
<circle cx="675.6" cy="176.3" r="2.1" fill="#BDBDBD"/>
<circle cx="677.5" cy="179.7" r="2.1" fill="#BDBDBD"/>
<circle cx="675.2" cy="182" r="2.1" fill="#BDBDBD"/>
<circle cx="661.2" cy="186.9" r="2.1" fill="#BDBDBD"/>
<circle cx="663.5" cy="184" r="2.1" fill="#BDBDBD"/>
<circle cx="666.5" cy="180.5" r="2.1" fill="#BDBDBD"/>
<circle cx="676.5" cy="178.5" r="2.1" fill="#BDBDBD"/>
<circle cx="658.8" cy="184" r="2.1" fill="#BDBDBD"/>
<circle cx="662" cy="188.5" r="2.1" fill="#BDBDBD"/>
<circle cx="667" cy="182.8" r="2.1" fill="#BDBDBD"/>
<circle cx="671" cy="180" r="2.1" fill="#BDBDBD"/>
<circle cx="673" cy="183.8" r="2.1" fill="#BDBDBD"/>
<circle cx="678" cy="177.5" r="2.1" fill="#BDBDBD"/>
<circle cx="678.2" cy="181" r="2.1" fill="#BDBDBD"/>
<circle cx="676" cy="174.8" r="2.1" fill="#BDBDBD"/>
<circle cx="660.5" cy="178.8" r="2.1" fill="#BDBDBD"/>
<circle cx="591" cy="194.6" r="2.75" fill="#C9291F"/>
<circle cx="594.2" cy="207.5" r="2.75" fill="#C9291F"/>
<circle cx="624.2" cy="195.9" r="2.75" fill="#C9291F"/>
<circle cx="630.7" cy="197.5" r="2.75" fill="#C9291F"/>
<circle cx="632.3" cy="193" r="2.75" fill="#C9291F"/>
<circle cx="650.3" cy="196" r="2.75" fill="#C9291F"/>
<circle cx="650.1" cy="207.3" r="2.75" fill="#C9291F"/>
<circle cx="652.4" cy="246" r="2.75" fill="#C9291F"/>
<circle cx="625.8" cy="196.3" r="2.75" fill="#C9291F"/>
<circle cx="667.6" cy="195.2" r="2.75" fill="#4A6DF0"/>
<circle cx="667" cy="187.5" r="2.75" fill="#4A6DF0"/>
<circle cx="668" cy="190" r="2.75" fill="#4A6DF0"/>
<circle cx="671.4" cy="189.2" r="2.75" fill="#4A6DF0"/>
<circle cx="676.7" cy="186.1" r="2.75" fill="#4A6DF0"/>
<circle cx="678.3" cy="184.5" r="2.75" fill="#4A6DF0"/>
<circle cx="661.5" cy="180.5" r="1.2" fill="#ECA65A"/>
<circle cx="669.5" cy="182.3" r="1.2" fill="#ECA65A"/>
<circle cx="662.5" cy="187.3" r="1.2" fill="#ECA65A"/>
<circle cx="672.5" cy="178.8" r="1.2" fill="#ECA65A"/>
<circle cx="676" cy="181.2" r="1.2" fill="#ECA65A"/>
<circle cx="665" cy="182" r="1.2" fill="#4A6DF0"/>
<circle cx="674.8" cy="182.5" r="1.2" fill="#4A6DF0"/>
<circle cx="677.5" cy="180" r="1.2" fill="#4A6DF0"/>
<circle cx="664" cy="185" r="1.2" fill="#4A6DF0"/>
<circle cx="649.9" cy="189.2" r="2.5" fill="#BDBDBD" stroke="#111" stroke-width="0.95"/>
<circle cx="660.8" cy="181.2" r="2.5" fill="none" stroke="#111" stroke-width="1"/>
<circle cx="664.2" cy="179.7" r="2.5" fill="none" stroke="#111" stroke-width="1"/>
<circle cx="669.5" cy="180.8" r="2.5" fill="none" stroke="#111" stroke-width="1"/>
<circle cx="675.6" cy="176.3" r="2.5" fill="none" stroke="#111" stroke-width="1"/>
<circle cx="677.5" cy="179.7" r="2.5" fill="none" stroke="#111" stroke-width="1"/>
<circle cx="675.2" cy="182" r="2.5" fill="none" stroke="#111" stroke-width="1"/>
<circle cx="661.2" cy="186.9" r="2.5" fill="none" stroke="#111" stroke-width="1"/>
<circle cx="663.5" cy="184" r="2.5" fill="none" stroke="#111" stroke-width="1"/>
<circle cx="666.5" cy="180.5" r="2.5" fill="none" stroke="#111" stroke-width="1"/>
<circle cx="676.5" cy="178.5" r="2.5" fill="none" stroke="#111" stroke-width="1"/>
<circle cx="658.8" cy="184" r="2.5" fill="none" stroke="#111" stroke-width="1"/>
<circle cx="662" cy="188.5" r="2.5" fill="none" stroke="#111" stroke-width="1"/>
<circle cx="667" cy="182.8" r="2.5" fill="none" stroke="#111" stroke-width="1"/>
<circle cx="671" cy="180" r="2.5" fill="none" stroke="#111" stroke-width="1"/>
<circle cx="673" cy="183.8" r="2.5" fill="none" stroke="#111" stroke-width="1"/>
<circle cx="678" cy="177.5" r="2.5" fill="none" stroke="#111" stroke-width="1"/>
<circle cx="678.2" cy="181" r="2.5" fill="none" stroke="#111" stroke-width="1"/>
<circle cx="676" cy="174.8" r="2.5" fill="none" stroke="#111" stroke-width="1"/>
<circle cx="660.5" cy="178.8" r="2.5" fill="none" stroke="#111" stroke-width="1"/>
<line x1="556.6" y1="230.2" x2="678.5" y2="182.5" stroke="#151515" stroke-width="1.05"/>
<rect x="538.5" y="254.1" width="42.2" height="31.1" fill="#fff" stroke="#3a3a3a" stroke-width="0.95"/>
<line x1="538.5" y1="263.1" x2="580.7" y2="263.1" stroke="#3a3a3a" stroke-width="0.95"/>
<text transform="translate(559.6,260.8) scale(1,1.07)" font-size="6" font-weight="bold" text-anchor="middle" fill="#111" stroke="#111" stroke-width="0.15">WG</text>
<circle cx="549.5" cy="267.3" r="1.9" fill="#C9291F"/>
<text transform="translate(559.8,269.6) scale(1,1.07)" font-size="6" font-weight="bold" fill="#111" stroke="#111" stroke-width="0.15">DW</text>
<circle cx="549.5" cy="274.3" r="1.9" fill="#ECA65A"/>
<text transform="translate(559.8,276.6) scale(1,1.07)" font-size="6" font-weight="bold" fill="#111" stroke="#111" stroke-width="0.15">WGCC</text>
<circle cx="549.5" cy="281.3" r="1.9" fill="#4A6DF0"/>
<text transform="translate(559.8,283.6) scale(1,1.07)" font-size="6" font-weight="bold" fill="#111" stroke="#111" stroke-width="0.15">SCSW</text>
<rect x="534" y="159" width="146.2" height="131" fill="none" stroke="#4a4a4a" stroke-width="1.15"/>
<text transform="translate(534,300.3) scale(1,1.07)" font-size="7.1" text-anchor="middle" fill="#262626" stroke="#262626" stroke-width="0.15">15</text>
<text transform="translate(570.55,300.3) scale(1,1.07)" font-size="7.1" text-anchor="middle" fill="#262626" stroke="#262626" stroke-width="0.15">20</text>
<text transform="translate(607.1,300.3) scale(1,1.07)" font-size="7.1" text-anchor="middle" fill="#262626" stroke="#262626" stroke-width="0.15">25</text>
<text transform="translate(643.65,300.3) scale(1,1.07)" font-size="7.1" text-anchor="middle" fill="#262626" stroke="#262626" stroke-width="0.15">30</text>
<text transform="translate(680.2,300.3) scale(1,1.07)" font-size="7.1" text-anchor="middle" fill="#262626" stroke="#262626" stroke-width="0.15">35</text>
<text transform="translate(531,293.4) scale(1,1.07)" font-size="7.1" text-anchor="end" fill="#262626" stroke="#262626" stroke-width="0.15">-10</text>
<text transform="translate(531,271.57) scale(1,1.07)" font-size="7.1" text-anchor="end" fill="#262626" stroke="#262626" stroke-width="0.15">-8</text>
<text transform="translate(531,249.73) scale(1,1.07)" font-size="7.1" text-anchor="end" fill="#262626" stroke="#262626" stroke-width="0.15">-6</text>
<text transform="translate(531,227.9) scale(1,1.07)" font-size="7.1" text-anchor="end" fill="#262626" stroke="#262626" stroke-width="0.15">-4</text>
<text transform="translate(531,206.07) scale(1,1.07)" font-size="7.1" text-anchor="end" fill="#262626" stroke="#262626" stroke-width="0.15">-2</text>
<text transform="translate(531,184.23) scale(1,1.07)" font-size="7.1" text-anchor="end" fill="#262626" stroke="#262626" stroke-width="0.15">0</text>
<text transform="translate(531,162.4) scale(1,1.07)" font-size="7.1" text-anchor="end" fill="#262626" stroke="#262626" stroke-width="0.15">2</text>
<path d="M534 290v-2M534 159v2M570.55 290v-2M570.55 159v2M607.1 290v-2M607.1 159v2M643.65 290v-2M643.65 159v2M680.2 290v-2M680.2 159v2M534 290h2M680.2 290h-2M534 268.17h2M680.2 268.17h-2M534 246.33h2M680.2 246.33h-2M534 224.5h2M680.2 224.5h-2M534 202.67h2M680.2 202.67h-2M534 180.83h2M680.2 180.83h-2M534 159h2M680.2 159h-2" stroke="#333" stroke-width="1.0" fill="none"/>
<text x="536.8" y="171.6" font-size="10" font-weight="bold" fill="#111">h</text>
<rect x="28.5" y="314.6" width="146.2" height="131" fill="#fff"/>
<circle cx="158.7" cy="330.1" r="2.1" fill="#BDBDBD"/>
<circle cx="138.8" cy="344.7" r="2.1" fill="#BDBDBD"/>
<circle cx="158.7" cy="348.9" r="2.1" fill="#BDBDBD"/>
<circle cx="129" cy="352.2" r="2.1" fill="#BDBDBD"/>
<circle cx="132.6" cy="359.5" r="2.1" fill="#BDBDBD"/>
<circle cx="131.6" cy="362" r="2.1" fill="#BDBDBD"/>
<circle cx="158.7" cy="358" r="2.1" fill="#BDBDBD"/>
<circle cx="158" cy="361" r="2.1" fill="#BDBDBD"/>
<circle cx="159.2" cy="364.6" r="2.1" fill="#BDBDBD"/>
<circle cx="156.5" cy="368.5" r="2.1" fill="#BDBDBD"/>
<circle cx="161" cy="371.5" r="2.1" fill="#BDBDBD"/>
<circle cx="127.1" cy="370" r="2.1" fill="#BDBDBD"/>
<circle cx="129.3" cy="371.1" r="2.1" fill="#BDBDBD"/>
<circle cx="137.6" cy="373.3" r="2.1" fill="#BDBDBD"/>
<circle cx="150" cy="370" r="2.1" fill="#BDBDBD"/>
<circle cx="152" cy="372.6" r="2.1" fill="#BDBDBD"/>
<circle cx="148.9" cy="376.4" r="2.1" fill="#BDBDBD"/>
<circle cx="128.6" cy="383.3" r="2.1" fill="#BDBDBD"/>
<circle cx="132.8" cy="388.6" r="2.1" fill="#BDBDBD"/>
<circle cx="130.1" cy="391.6" r="2.1" fill="#BDBDBD"/>
<circle cx="136.1" cy="395.8" r="2.1" fill="#BDBDBD"/>
<circle cx="150.9" cy="385.6" r="2.1" fill="#BDBDBD"/>
<circle cx="161.4" cy="380.7" r="2.1" fill="#BDBDBD"/>
<circle cx="157.2" cy="384.4" r="2.1" fill="#BDBDBD"/>
<circle cx="161" cy="389.3" r="2.1" fill="#BDBDBD"/>
<circle cx="148.2" cy="403.7" r="2.1" fill="#BDBDBD"/>
<circle cx="147.4" cy="406.7" r="2.1" fill="#BDBDBD"/>
<circle cx="150.9" cy="410.4" r="2.1" fill="#BDBDBD"/>
<circle cx="160.2" cy="409.7" r="2.1" fill="#BDBDBD"/>
<circle cx="128.9" cy="413" r="2.1" fill="#BDBDBD"/>
<circle cx="153.5" cy="417.2" r="2.1" fill="#BDBDBD"/>
<circle cx="157.2" cy="421" r="2.1" fill="#BDBDBD"/>
<circle cx="153.5" cy="429.6" r="2.1" fill="#BDBDBD"/>
<circle cx="129.8" cy="436.5" r="2.1" fill="#BDBDBD"/>
<circle cx="128.5" cy="383.1" r="2.1" fill="#BDBDBD"/>
<circle cx="132" cy="402" r="2.1" fill="#BDBDBD"/>
<circle cx="146" cy="405" r="2.1" fill="#BDBDBD"/>
<circle cx="160.5" cy="395" r="2.1" fill="#BDBDBD"/>
<circle cx="156" cy="402" r="2.1" fill="#BDBDBD"/>
<circle cx="161" cy="405" r="2.1" fill="#BDBDBD"/>
<circle cx="153" cy="398" r="2.1" fill="#BDBDBD"/>
<circle cx="163" cy="402" r="2.1" fill="#BDBDBD"/>
<circle cx="151" cy="393" r="2.1" fill="#BDBDBD"/>
<circle cx="162" cy="389" r="2.1" fill="#BDBDBD"/>
<circle cx="144.4" cy="402.6" r="2.75" fill="#C9291F"/>
<circle cx="126.8" cy="407.9" r="2.75" fill="#C9291F"/>
<circle cx="120.3" cy="406.4" r="2.75" fill="#ECA65A"/>
<circle cx="137.6" cy="410" r="2.75" fill="#ECA65A"/>
<circle cx="161.4" cy="406.2" r="2.75" fill="#ECA65A"/>
<circle cx="50.3" cy="407.4" r="2.75" fill="#ECA65A"/>
<circle cx="60.1" cy="406.7" r="2.75" fill="#ECA65A"/>
<circle cx="87.3" cy="413.5" r="2.75" fill="#ECA65A"/>
<circle cx="96.9" cy="411.2" r="2.75" fill="#ECA65A"/>
<circle cx="108.4" cy="411.2" r="2.75" fill="#ECA65A"/>
<circle cx="157.7" cy="379.4" r="2.75" fill="#4A6DF0"/>
<circle cx="155" cy="390.5" r="2.75" fill="#4A6DF0"/>
<circle cx="158.7" cy="390.3" r="2.75" fill="#4A6DF0"/>
<circle cx="161.7" cy="391.8" r="2.75" fill="#4A6DF0"/>
<circle cx="152.4" cy="395.8" r="2.75" fill="#4A6DF0"/>
<circle cx="157.2" cy="395" r="2.75" fill="#4A6DF0"/>
<circle cx="161" cy="395.6" r="2.75" fill="#4A6DF0"/>
<circle cx="162.5" cy="398.4" r="2.75" fill="#4A6DF0"/>
<circle cx="154.2" cy="399.6" r="2.75" fill="#4A6DF0"/>
<circle cx="158.7" cy="399.6" r="2.75" fill="#4A6DF0"/>
<circle cx="154.5" cy="403.7" r="2.75" fill="#4A6DF0"/>
<circle cx="158.2" cy="403.2" r="2.75" fill="#4A6DF0"/>
<circle cx="154.8" cy="406.5" r="2.75" fill="#4A6DF0"/>
<circle cx="153" cy="392.5" r="2.75" fill="#4A6DF0"/>
<circle cx="156" cy="393" r="2.75" fill="#4A6DF0"/>
<circle cx="160" cy="402.5" r="2.75" fill="#4A6DF0"/>
<circle cx="151.8" cy="398.5" r="2.75" fill="#4A6DF0"/>
<circle cx="128.6" cy="395" r="2.75" fill="#4A6DF0"/>
<circle cx="131.5" cy="396.5" r="2.75" fill="#4A6DF0"/>
<circle cx="129.3" cy="401.8" r="2.75" fill="#4A6DF0"/>
<circle cx="130.8" cy="409.4" r="2.75" fill="#4A6DF0"/>
<circle cx="159.9" cy="420.2" r="2.75" fill="#4A6DF0"/>
<circle cx="157.2" cy="433.1" r="2.75" fill="#4A6DF0"/>
<circle cx="159.5" cy="436.1" r="2.55" fill="#BDBDBD" stroke="#111" stroke-width="0.95"/>
<circle cx="158" cy="429.3" r="2.2" fill="#8EE03C" stroke="#111" stroke-width="0.9"/>
<rect x="33.1" y="409.7" width="41.8" height="31.1" fill="#fff" stroke="#3a3a3a" stroke-width="0.95"/>
<line x1="33.1" y1="418.7" x2="74.9" y2="418.7" stroke="#3a3a3a" stroke-width="0.95"/>
<text transform="translate(54,416.4) scale(1,1.07)" font-size="6" font-weight="bold" text-anchor="middle" fill="#111" stroke="#111" stroke-width="0.15">EH</text>
<circle cx="44.1" cy="422.9" r="1.9" fill="#C9291F"/>
<text transform="translate(54.4,425.2) scale(1,1.07)" font-size="6" font-weight="bold" fill="#111" stroke="#111" stroke-width="0.15">DW</text>
<circle cx="44.1" cy="429.9" r="1.9" fill="#ECA65A"/>
<text transform="translate(54.4,432.2) scale(1,1.07)" font-size="6" font-weight="bold" fill="#111" stroke="#111" stroke-width="0.15">WGCC</text>
<circle cx="44.1" cy="436.9" r="1.9" fill="#4A6DF0"/>
<text transform="translate(54.4,439.2) scale(1,1.07)" font-size="6" font-weight="bold" fill="#111" stroke="#111" stroke-width="0.15">SCSW</text>
<rect x="28.5" y="314.6" width="146.2" height="131" fill="none" stroke="#4a4a4a" stroke-width="1.15"/>
<text transform="translate(28.5,455.9) scale(1,1.07)" font-size="7.1" text-anchor="middle" fill="#262626" stroke="#262626" stroke-width="0.15">31</text>
<text transform="translate(65.05,455.9) scale(1,1.07)" font-size="7.1" text-anchor="middle" fill="#262626" stroke="#262626" stroke-width="0.15">32</text>
<text transform="translate(101.6,455.9) scale(1,1.07)" font-size="7.1" text-anchor="middle" fill="#262626" stroke="#262626" stroke-width="0.15">33</text>
<text transform="translate(138.15,455.9) scale(1,1.07)" font-size="7.1" text-anchor="middle" fill="#262626" stroke="#262626" stroke-width="0.15">34</text>
<text transform="translate(174.7,455.9) scale(1,1.07)" font-size="7.1" text-anchor="middle" fill="#262626" stroke="#262626" stroke-width="0.15">35</text>
<text transform="translate(25.5,449) scale(1,1.07)" font-size="7.1" text-anchor="end" fill="#262626" stroke="#262626" stroke-width="0.15">-10</text>
<text transform="translate(25.5,432.62) scale(1,1.07)" font-size="7.1" text-anchor="end" fill="#262626" stroke="#262626" stroke-width="0.15">-5</text>
<text transform="translate(25.5,416.25) scale(1,1.07)" font-size="7.1" text-anchor="end" fill="#262626" stroke="#262626" stroke-width="0.15">0</text>
<text transform="translate(25.5,399.88) scale(1,1.07)" font-size="7.1" text-anchor="end" fill="#262626" stroke="#262626" stroke-width="0.15">5</text>
<text transform="translate(25.5,383.5) scale(1,1.07)" font-size="7.1" text-anchor="end" fill="#262626" stroke="#262626" stroke-width="0.15">10</text>
<text transform="translate(25.5,367.12) scale(1,1.07)" font-size="7.1" text-anchor="end" fill="#262626" stroke="#262626" stroke-width="0.15">15</text>
<text transform="translate(25.5,350.75) scale(1,1.07)" font-size="7.1" text-anchor="end" fill="#262626" stroke="#262626" stroke-width="0.15">20</text>
<text transform="translate(25.5,334.38) scale(1,1.07)" font-size="7.1" text-anchor="end" fill="#262626" stroke="#262626" stroke-width="0.15">25</text>
<text transform="translate(25.5,318) scale(1,1.07)" font-size="7.1" text-anchor="end" fill="#262626" stroke="#262626" stroke-width="0.15">30</text>
<path d="M28.5 445.6v-2M28.5 314.6v2M65.05 445.6v-2M65.05 314.6v2M101.6 445.6v-2M101.6 314.6v2M138.15 445.6v-2M138.15 314.6v2M174.7 445.6v-2M174.7 314.6v2M28.5 445.6h2M174.7 445.6h-2M28.5 429.23h2M174.7 429.23h-2M28.5 412.85h2M174.7 412.85h-2M28.5 396.48h2M174.7 396.48h-2M28.5 380.1h2M174.7 380.1h-2M28.5 363.73h2M174.7 363.73h-2M28.5 347.35h2M174.7 347.35h-2M28.5 330.98h2M174.7 330.98h-2M28.5 314.6h2M174.7 314.6h-2" stroke="#333" stroke-width="1.0" fill="none"/>
<text x="31.3" y="327.2" font-size="10" font-weight="bold" fill="#111">i</text>
<rect x="196.7" y="314.6" width="146.2" height="131" fill="#fff"/>
<circle cx="312.5" cy="334.6" r="2.1" fill="#BDBDBD"/>
<circle cx="311" cy="346.5" r="2.1" fill="#BDBDBD"/>
<circle cx="317.1" cy="345" r="2.1" fill="#BDBDBD"/>
<circle cx="297.5" cy="354.1" r="2.1" fill="#BDBDBD"/>
<circle cx="295.2" cy="360.1" r="2.1" fill="#BDBDBD"/>
<circle cx="303.5" cy="361.3" r="2.1" fill="#BDBDBD"/>
<circle cx="309.1" cy="366.9" r="2.1" fill="#BDBDBD"/>
<circle cx="317.1" cy="368.1" r="2.1" fill="#BDBDBD"/>
<circle cx="332.6" cy="355" r="2.1" fill="#BDBDBD"/>
<circle cx="337.2" cy="358.8" r="2.1" fill="#BDBDBD"/>
<circle cx="336.2" cy="364.3" r="2.1" fill="#BDBDBD"/>
<circle cx="290.4" cy="372.2" r="2.1" fill="#BDBDBD"/>
<circle cx="271" cy="376.4" r="2.1" fill="#BDBDBD"/>
<circle cx="305" cy="369.6" r="2.1" fill="#BDBDBD"/>
<circle cx="326.1" cy="377.9" r="2.1" fill="#BDBDBD"/>
<circle cx="271" cy="376.8" r="2.1" fill="#BDBDBD"/>
<circle cx="269.8" cy="382.2" r="2.1" fill="#BDBDBD"/>
<circle cx="275.9" cy="384.4" r="2.1" fill="#BDBDBD"/>
<circle cx="284.6" cy="389.3" r="2.1" fill="#BDBDBD"/>
<circle cx="292.9" cy="388.6" r="2.1" fill="#BDBDBD"/>
<circle cx="297.5" cy="387.8" r="2.1" fill="#BDBDBD"/>
<circle cx="302" cy="388.6" r="2.1" fill="#BDBDBD"/>
<circle cx="306.5" cy="390.1" r="2.1" fill="#BDBDBD"/>
<circle cx="266.5" cy="399.2" r="2.1" fill="#BDBDBD"/>
<circle cx="268.8" cy="403.7" r="2.1" fill="#BDBDBD"/>
<circle cx="271.8" cy="401" r="2.1" fill="#BDBDBD"/>
<circle cx="283.1" cy="405.2" r="2.1" fill="#BDBDBD"/>
<circle cx="286.1" cy="401.4" r="2.1" fill="#BDBDBD"/>
<circle cx="290.7" cy="397.6" r="2.1" fill="#BDBDBD"/>
<circle cx="292.2" cy="406" r="2.1" fill="#BDBDBD"/>
<circle cx="293.7" cy="412" r="2.1" fill="#BDBDBD"/>
<circle cx="280.1" cy="415" r="2.1" fill="#BDBDBD"/>
<circle cx="297.5" cy="410.5" r="2.1" fill="#BDBDBD"/>
<circle cx="302" cy="410.5" r="2.1" fill="#BDBDBD"/>
<circle cx="303.9" cy="415.8" r="2.1" fill="#BDBDBD"/>
<circle cx="318.6" cy="410.5" r="2.1" fill="#BDBDBD"/>
<circle cx="319.3" cy="420" r="2.1" fill="#BDBDBD"/>
<circle cx="307.3" cy="422.1" r="2.1" fill="#BDBDBD"/>
<circle cx="310.3" cy="423.3" r="2.1" fill="#BDBDBD"/>
<circle cx="294.4" cy="423.3" r="2.1" fill="#BDBDBD"/>
<circle cx="289.9" cy="425.6" r="2.1" fill="#BDBDBD"/>
<circle cx="292.9" cy="427.8" r="2.1" fill="#BDBDBD"/>
<circle cx="314.8" cy="427.5" r="2.1" fill="#BDBDBD"/>
<circle cx="318.6" cy="427.8" r="2.1" fill="#BDBDBD"/>
<circle cx="309.1" cy="433.9" r="2.1" fill="#BDBDBD"/>
<circle cx="325.4" cy="379.5" r="2.1" fill="#BDBDBD"/>
<circle cx="326.9" cy="381.3" r="2.1" fill="#BDBDBD"/>
<circle cx="335.2" cy="382.5" r="2.1" fill="#BDBDBD"/>
<circle cx="329.9" cy="390.1" r="2.1" fill="#BDBDBD"/>
<circle cx="334.4" cy="390.1" r="2.1" fill="#BDBDBD"/>
<circle cx="336.7" cy="391.6" r="2.1" fill="#BDBDBD"/>
<circle cx="322.4" cy="397.6" r="2.1" fill="#BDBDBD"/>
<circle cx="226.2" cy="376" r="2.1" fill="#BDBDBD"/>
<circle cx="246.3" cy="380.9" r="2.1" fill="#BDBDBD"/>
<circle cx="250.5" cy="383.5" r="2.1" fill="#BDBDBD"/>
<circle cx="261.1" cy="375.4" r="2.1" fill="#BDBDBD"/>
<circle cx="271.2" cy="376.7" r="2.1" fill="#BDBDBD"/>
<circle cx="270" cy="382.2" r="2.1" fill="#BDBDBD"/>
<circle cx="261" cy="384.7" r="2.1" fill="#BDBDBD"/>
<circle cx="258.8" cy="392.3" r="2.1" fill="#BDBDBD"/>
<circle cx="263.7" cy="393" r="2.1" fill="#BDBDBD"/>
<circle cx="242.2" cy="394.8" r="2.1" fill="#BDBDBD"/>
<circle cx="243" cy="401.3" r="2.1" fill="#BDBDBD"/>
<circle cx="238" cy="403.6" r="2.1" fill="#BDBDBD"/>
<circle cx="235" cy="405.1" r="2.1" fill="#BDBDBD"/>
<circle cx="233.5" cy="407.1" r="2.1" fill="#BDBDBD"/>
<circle cx="256.1" cy="402.5" r="2.1" fill="#BDBDBD"/>
<circle cx="262.9" cy="401.6" r="2.1" fill="#BDBDBD"/>
<circle cx="264.7" cy="399.5" r="2.1" fill="#BDBDBD"/>
<circle cx="268.2" cy="403.6" r="2.1" fill="#BDBDBD"/>
<circle cx="270.5" cy="400.6" r="2.1" fill="#BDBDBD"/>
<circle cx="249.7" cy="383.1" r="2.1" fill="#BDBDBD"/>
<circle cx="305" cy="380" r="2.1" fill="#BDBDBD"/>
<circle cx="310" cy="385" r="2.1" fill="#BDBDBD"/>
<circle cx="318" cy="383" r="2.1" fill="#BDBDBD"/>
<circle cx="322" cy="388" r="2.1" fill="#BDBDBD"/>
<circle cx="308" cy="392" r="2.1" fill="#BDBDBD"/>
<circle cx="296" cy="380" r="2.1" fill="#BDBDBD"/>
<circle cx="300" cy="398" r="2.1" fill="#BDBDBD"/>
<circle cx="305" cy="402" r="2.1" fill="#BDBDBD"/>
<circle cx="320" cy="402" r="2.1" fill="#BDBDBD"/>
<circle cx="324" cy="406" r="2.1" fill="#BDBDBD"/>
<circle cx="298" cy="417" r="2.1" fill="#BDBDBD"/>
<circle cx="304" cy="420" r="2.1" fill="#BDBDBD"/>
<circle cx="316" cy="416" r="2.1" fill="#BDBDBD"/>
<circle cx="323" cy="415" r="2.1" fill="#BDBDBD"/>
<circle cx="284" cy="395" r="2.1" fill="#BDBDBD"/>
<circle cx="278" cy="398" r="2.1" fill="#BDBDBD"/>
<circle cx="326" cy="385" r="2.1" fill="#BDBDBD"/>
<circle cx="330" cy="396" r="2.1" fill="#BDBDBD"/>
<circle cx="312" cy="370" r="2.1" fill="#BDBDBD"/>
<circle cx="320" cy="360" r="2.1" fill="#BDBDBD"/>
<circle cx="323" cy="372" r="2.1" fill="#BDBDBD"/>
<circle cx="330" cy="368" r="2.1" fill="#BDBDBD"/>
<circle cx="286" cy="384" r="2.1" fill="#BDBDBD"/>
<circle cx="300" cy="372" r="2.1" fill="#BDBDBD"/>
<circle cx="311" cy="357" r="2.1" fill="#BDBDBD"/>
<circle cx="305" cy="350" r="2.1" fill="#BDBDBD"/>
<circle cx="289" cy="412" r="2.1" fill="#BDBDBD"/>
<circle cx="287" cy="418" r="2.1" fill="#BDBDBD"/>
<circle cx="309" cy="428" r="2.1" fill="#BDBDBD"/>
<circle cx="321" cy="433" r="2.1" fill="#BDBDBD"/>
<circle cx="278" cy="409" r="2.1" fill="#BDBDBD"/>
<circle cx="316" cy="391" r="2.1" fill="#BDBDBD"/>
<circle cx="292" cy="380" r="2.1" fill="#BDBDBD"/>
<circle cx="297" cy="383" r="2.1" fill="#BDBDBD"/>
<circle cx="302" cy="384" r="2.1" fill="#BDBDBD"/>
<circle cx="318" cy="381" r="2.1" fill="#BDBDBD"/>
<circle cx="322" cy="385" r="2.1" fill="#BDBDBD"/>
<circle cx="326" cy="388" r="2.1" fill="#BDBDBD"/>
<circle cx="297" cy="408" r="2.1" fill="#BDBDBD"/>
<circle cx="300" cy="412" r="2.1" fill="#BDBDBD"/>
<circle cx="306" cy="418" r="2.1" fill="#BDBDBD"/>
<circle cx="312" cy="418" r="2.1" fill="#BDBDBD"/>
<circle cx="318" cy="416" r="2.1" fill="#BDBDBD"/>
<circle cx="285" cy="385" r="2.1" fill="#BDBDBD"/>
<circle cx="289" cy="392" r="2.1" fill="#BDBDBD"/>
<circle cx="305" cy="395" r="2.1" fill="#BDBDBD"/>
<circle cx="320" cy="393" r="2.1" fill="#BDBDBD"/>
<circle cx="328" cy="400" r="2.1" fill="#BDBDBD"/>
<circle cx="333" cy="395" r="2.1" fill="#BDBDBD"/>
<circle cx="338" cy="386" r="2.1" fill="#BDBDBD"/>
<circle cx="274.8" cy="400.4" r="2.1" fill="#BDBDBD"/>
<circle cx="295" cy="391" r="2.1" fill="#BDBDBD"/>
<circle cx="313" cy="388" r="2.1" fill="#BDBDBD"/>
<circle cx="308" cy="380" r="2.1" fill="#BDBDBD"/>
<circle cx="299" cy="370.7" r="2.75" fill="#C9291F"/>
<circle cx="326.1" cy="371.6" r="2.75" fill="#C9291F"/>
<circle cx="324.6" cy="392.4" r="2.75" fill="#C9291F"/>
<circle cx="311.8" cy="386.8" r="2.75" fill="#C9291F"/>
<circle cx="301.2" cy="394.6" r="2.75" fill="#C9291F"/>
<circle cx="299.7" cy="398.4" r="2.75" fill="#C9291F"/>
<circle cx="294.9" cy="404.4" r="2.75" fill="#C9291F"/>
<circle cx="295.9" cy="416.1" r="2.75" fill="#C9291F"/>
<circle cx="230.8" cy="359.8" r="2.75" fill="#C9291F"/>
<circle cx="294.4" cy="367.1" r="2.75" fill="#ECA65A"/>
<circle cx="329.2" cy="363.6" r="2.75" fill="#ECA65A"/>
<circle cx="332.2" cy="375.2" r="2.75" fill="#ECA65A"/>
<circle cx="335.2" cy="374.6" r="2.75" fill="#ECA65A"/>
<circle cx="277.4" cy="390.1" r="2.75" fill="#ECA65A"/>
<circle cx="306.5" cy="383.3" r="2.75" fill="#ECA65A"/>
<circle cx="315.6" cy="386.8" r="2.75" fill="#ECA65A"/>
<circle cx="318.6" cy="394.6" r="2.75" fill="#ECA65A"/>
<circle cx="297.5" cy="395.4" r="2.75" fill="#ECA65A"/>
<circle cx="286.6" cy="419.8" r="2.75" fill="#ECA65A"/>
<circle cx="333.7" cy="375.8" r="2.75" fill="#ECA65A"/>
<circle cx="289.9" cy="359.5" r="2.75" fill="#4A6DF0"/>
<circle cx="316.3" cy="362.1" r="2.75" fill="#4A6DF0"/>
<circle cx="301.2" cy="374.6" r="2.75" fill="#4A6DF0"/>
<circle cx="313.3" cy="377.9" r="2.75" fill="#4A6DF0"/>
<circle cx="301.2" cy="375.3" r="2.75" fill="#4A6DF0"/>
<circle cx="309.5" cy="380.7" r="2.75" fill="#4A6DF0"/>
<circle cx="314.1" cy="377.3" r="2.75" fill="#4A6DF0"/>
<circle cx="314.5" cy="382.5" r="2.75" fill="#4A6DF0"/>
<circle cx="302.7" cy="403.7" r="2.75" fill="#4A6DF0"/>
<circle cx="310" cy="395.4" r="2.75" fill="#4A6DF0"/>
<circle cx="240.6" cy="381.7" r="2.75" fill="#4A6DF0"/>
<circle cx="216.6" cy="393.5" r="2.75" fill="#4A6DF0"/>
<circle cx="300.2" cy="323.6" r="2.15" fill="#BDBDBD" stroke="#111" stroke-width="0.95"/>
<circle cx="308.8" cy="334.2" r="2.15" fill="#BDBDBD" stroke="#111" stroke-width="0.95"/>
<circle cx="329.9" cy="342.2" r="2.15" fill="#BDBDBD" stroke="#111" stroke-width="0.95"/>
<circle cx="317.5" cy="352" r="2.15" fill="#BDBDBD" stroke="#111" stroke-width="0.95"/>
<circle cx="315.1" cy="359.8" r="2.15" fill="#BDBDBD" stroke="#111" stroke-width="0.95"/>
<circle cx="300.2" cy="371.6" r="2.15" fill="#BDBDBD" stroke="#111" stroke-width="0.95"/>
<circle cx="287.6" cy="393.9" r="2.15" fill="#BDBDBD" stroke="#111" stroke-width="0.95"/>
<circle cx="315.1" cy="394.3" r="2.15" fill="#BDBDBD" stroke="#111" stroke-width="0.95"/>
<circle cx="311" cy="396.4" r="2.15" fill="#BDBDBD" stroke="#111" stroke-width="0.95"/>
<circle cx="308" cy="402.5" r="2.15" fill="#BDBDBD" stroke="#111" stroke-width="0.95"/>
<circle cx="314.5" cy="415" r="2.15" fill="#BDBDBD" stroke="#111" stroke-width="0.95"/>
<circle cx="298.5" cy="427.5" r="2.15" fill="#BDBDBD" stroke="#111" stroke-width="0.95"/>
<circle cx="303.5" cy="430.1" r="2.15" fill="#BDBDBD" stroke="#111" stroke-width="0.95"/>
<circle cx="313" cy="435.1" r="2.15" fill="#BDBDBD" stroke="#111" stroke-width="0.95"/>
<circle cx="274.8" cy="400.4" r="2.15" fill="none" stroke="#111" stroke-width="0.95"/>
<circle cx="308.8" cy="354.5" r="2.2" fill="#8EE03C" stroke="#111" stroke-width="0.9"/>
<circle cx="329.9" cy="367.4" r="2.2" fill="#8EE03C" stroke="#111" stroke-width="0.9"/>
<circle cx="308.8" cy="374.2" r="2.2" fill="#8EE03C" stroke="#111" stroke-width="0.9"/>
<circle cx="317.5" cy="374.2" r="2.2" fill="#8EE03C" stroke="#111" stroke-width="0.9"/>
<circle cx="300.2" cy="392.8" r="2.2" fill="#8EE03C" stroke="#111" stroke-width="0.9"/>
<circle cx="315.1" cy="398.4" r="2.2" fill="#8EE03C" stroke="#111" stroke-width="0.9"/>
<circle cx="287.6" cy="408.5" r="2.2" fill="#8EE03C" stroke="#111" stroke-width="0.9"/>
<circle cx="274.8" cy="413.5" r="2.2" fill="#8EE03C" stroke="#111" stroke-width="0.9"/>
<circle cx="311" cy="407.5" r="2.2" fill="#8EE03C" stroke="#111" stroke-width="0.9"/>
<circle cx="315.6" cy="408.5" r="2.2" fill="#8EE03C" stroke="#111" stroke-width="0.9"/>
<circle cx="308" cy="410.9" r="2.2" fill="#8EE03C" stroke="#111" stroke-width="0.9"/>
<circle cx="311.8" cy="412" r="2.2" fill="#8EE03C" stroke="#111" stroke-width="0.9"/>
<circle cx="314.5" cy="420.3" r="2.2" fill="#8EE03C" stroke="#111" stroke-width="0.9"/>
<circle cx="298.2" cy="430.1" r="2.2" fill="#8EE03C" stroke="#111" stroke-width="0.9"/>
<circle cx="313" cy="439.2" r="2.2" fill="#8EE03C" stroke="#111" stroke-width="0.9"/>
<circle cx="300.2" cy="442.6" r="2.2" fill="#8EE03C" stroke="#111" stroke-width="0.9"/>
<rect x="201.4" y="409.7" width="41.3" height="31.1" fill="#fff" stroke="#3a3a3a" stroke-width="0.95"/>
<line x1="201.4" y1="418.7" x2="242.7" y2="418.7" stroke="#3a3a3a" stroke-width="0.95"/>
<text transform="translate(222.05,416.4) scale(1,1.07)" font-size="6" font-weight="bold" text-anchor="middle" fill="#111" stroke="#111" stroke-width="0.15">LZ</text>
<circle cx="212.4" cy="422.9" r="1.9" fill="#C9291F"/>
<text transform="translate(222.7,425.2) scale(1,1.07)" font-size="6" font-weight="bold" fill="#111" stroke="#111" stroke-width="0.15">CC</text>
<circle cx="212.4" cy="429.9" r="1.9" fill="#ECA65A"/>
<text transform="translate(222.7,432.2) scale(1,1.07)" font-size="6" font-weight="bold" fill="#111" stroke="#111" stroke-width="0.15">KW</text>
<circle cx="212.4" cy="436.9" r="1.9" fill="#4A6DF0"/>
<text transform="translate(222.7,439.2) scale(1,1.07)" font-size="6" font-weight="bold" fill="#111" stroke="#111" stroke-width="0.15">SCSW</text>
<rect x="196.7" y="314.6" width="146.2" height="131" fill="none" stroke="#4a4a4a" stroke-width="1.15"/>
<text transform="translate(196.7,455.9) scale(1,1.07)" font-size="7.1" text-anchor="middle" fill="#262626" stroke="#262626" stroke-width="0.15">33</text>
<text transform="translate(233.25,455.9) scale(1,1.07)" font-size="7.1" text-anchor="middle" fill="#262626" stroke="#262626" stroke-width="0.15">33.5</text>
<text transform="translate(269.8,455.9) scale(1,1.07)" font-size="7.1" text-anchor="middle" fill="#262626" stroke="#262626" stroke-width="0.15">34</text>
<text transform="translate(306.35,455.9) scale(1,1.07)" font-size="7.1" text-anchor="middle" fill="#262626" stroke="#262626" stroke-width="0.15">34.5</text>
<text transform="translate(342.9,455.9) scale(1,1.07)" font-size="7.1" text-anchor="middle" fill="#262626" stroke="#262626" stroke-width="0.15">35</text>
<text transform="translate(193.7,449) scale(1,1.07)" font-size="7.1" text-anchor="end" fill="#262626" stroke="#262626" stroke-width="0.15">-4</text>
<text transform="translate(193.7,427.17) scale(1,1.07)" font-size="7.1" text-anchor="end" fill="#262626" stroke="#262626" stroke-width="0.15">-2</text>
<text transform="translate(193.7,405.33) scale(1,1.07)" font-size="7.1" text-anchor="end" fill="#262626" stroke="#262626" stroke-width="0.15">0</text>
<text transform="translate(193.7,383.5) scale(1,1.07)" font-size="7.1" text-anchor="end" fill="#262626" stroke="#262626" stroke-width="0.15">2</text>
<text transform="translate(193.7,361.67) scale(1,1.07)" font-size="7.1" text-anchor="end" fill="#262626" stroke="#262626" stroke-width="0.15">4</text>
<text transform="translate(193.7,339.83) scale(1,1.07)" font-size="7.1" text-anchor="end" fill="#262626" stroke="#262626" stroke-width="0.15">6</text>
<text transform="translate(193.7,318) scale(1,1.07)" font-size="7.1" text-anchor="end" fill="#262626" stroke="#262626" stroke-width="0.15">8</text>
<path d="M196.7 445.6v-2M196.7 314.6v2M233.25 445.6v-2M233.25 314.6v2M269.8 445.6v-2M269.8 314.6v2M306.35 445.6v-2M306.35 314.6v2M342.9 445.6v-2M342.9 314.6v2M196.7 445.6h2M342.9 445.6h-2M196.7 423.77h2M342.9 423.77h-2M196.7 401.93h2M342.9 401.93h-2M196.7 380.1h2M342.9 380.1h-2M196.7 358.27h2M342.9 358.27h-2M196.7 336.43h2M342.9 336.43h-2M196.7 314.6h2M342.9 314.6h-2" stroke="#333" stroke-width="1.0" fill="none"/>
<text x="199.5" y="327.2" font-size="10" font-weight="bold" fill="#111">j</text>
<rect x="365.3" y="314.6" width="146.2" height="131" fill="#fff"/>
<circle cx="492.3" cy="321.3" r="2.1" fill="#BDBDBD"/>
<circle cx="488.9" cy="340.2" r="2.1" fill="#BDBDBD"/>
<circle cx="497.5" cy="340.2" r="2.1" fill="#BDBDBD"/>
<circle cx="449.3" cy="350.8" r="2.1" fill="#BDBDBD"/>
<circle cx="443.6" cy="354.8" r="2.1" fill="#BDBDBD"/>
<circle cx="457.9" cy="357.9" r="2.1" fill="#BDBDBD"/>
<circle cx="479.8" cy="358.3" r="2.1" fill="#BDBDBD"/>
<circle cx="489.6" cy="350.8" r="2.1" fill="#BDBDBD"/>
<circle cx="490.4" cy="353.8" r="2.1" fill="#BDBDBD"/>
<circle cx="491.9" cy="358" r="2.1" fill="#BDBDBD"/>
<circle cx="495.7" cy="359.1" r="2.1" fill="#BDBDBD"/>
<circle cx="490.4" cy="360.6" r="2.1" fill="#BDBDBD"/>
<circle cx="475.3" cy="362.8" r="2.1" fill="#BDBDBD"/>
<circle cx="476.8" cy="367.4" r="2.1" fill="#BDBDBD"/>
<circle cx="485.1" cy="366.6" r="2.1" fill="#BDBDBD"/>
<circle cx="446.6" cy="368.9" r="2.1" fill="#BDBDBD"/>
<circle cx="442.8" cy="371.1" r="2.1" fill="#BDBDBD"/>
<circle cx="475" cy="372.2" r="2.1" fill="#BDBDBD"/>
<circle cx="491.9" cy="368.9" r="2.1" fill="#BDBDBD"/>
<circle cx="442.8" cy="376.4" r="2.1" fill="#BDBDBD"/>
<circle cx="448.9" cy="376" r="2.1" fill="#BDBDBD"/>
<circle cx="455.7" cy="376" r="2.1" fill="#BDBDBD"/>
<circle cx="494.9" cy="377.2" r="2.1" fill="#BDBDBD"/>
<circle cx="440.3" cy="366.6" r="2.1" fill="#BDBDBD"/>
<circle cx="445.9" cy="381.8" r="2.1" fill="#BDBDBD"/>
<circle cx="459.4" cy="381.8" r="2.1" fill="#BDBDBD"/>
<circle cx="461.4" cy="382.2" r="2.1" fill="#BDBDBD"/>
<circle cx="443.6" cy="387.1" r="2.1" fill="#BDBDBD"/>
<circle cx="454.2" cy="385.3" r="2.1" fill="#BDBDBD"/>
<circle cx="446.6" cy="390.1" r="2.1" fill="#BDBDBD"/>
<circle cx="460.9" cy="391.6" r="2.1" fill="#BDBDBD"/>
<circle cx="464" cy="390.9" r="2.1" fill="#BDBDBD"/>
<circle cx="439.8" cy="394.9" r="2.1" fill="#BDBDBD"/>
<circle cx="451.1" cy="394.3" r="2.1" fill="#BDBDBD"/>
<circle cx="449.6" cy="399.2" r="2.1" fill="#BDBDBD"/>
<circle cx="456.4" cy="399.9" r="2.1" fill="#BDBDBD"/>
<circle cx="461.7" cy="401.4" r="2.1" fill="#BDBDBD"/>
<circle cx="464" cy="401.9" r="2.1" fill="#BDBDBD"/>
<circle cx="436.2" cy="402.5" r="2.1" fill="#BDBDBD"/>
<circle cx="442.8" cy="402.5" r="2.1" fill="#BDBDBD"/>
<circle cx="470" cy="380.3" r="2.1" fill="#BDBDBD"/>
<circle cx="476.8" cy="385.3" r="2.1" fill="#BDBDBD"/>
<circle cx="478.3" cy="382.5" r="2.1" fill="#BDBDBD"/>
<circle cx="477.6" cy="389.3" r="2.1" fill="#BDBDBD"/>
<circle cx="482.1" cy="396.9" r="2.1" fill="#BDBDBD"/>
<circle cx="489.6" cy="388.6" r="2.1" fill="#BDBDBD"/>
<circle cx="485.1" cy="392.4" r="2.1" fill="#BDBDBD"/>
<circle cx="490.1" cy="400.4" r="2.1" fill="#BDBDBD"/>
<circle cx="487.4" cy="404.4" r="2.1" fill="#BDBDBD"/>
<circle cx="489.2" cy="407" r="2.1" fill="#BDBDBD"/>
<circle cx="487.4" cy="379.5" r="2.1" fill="#BDBDBD"/>
<circle cx="494.9" cy="377.3" r="2.1" fill="#BDBDBD"/>
<circle cx="382.1" cy="393" r="2.1" fill="#BDBDBD"/>
<circle cx="427.9" cy="404.5" r="2.1" fill="#BDBDBD"/>
<circle cx="439.9" cy="394.8" r="2.1" fill="#BDBDBD"/>
<circle cx="443.5" cy="387.1" r="2.1" fill="#BDBDBD"/>
<circle cx="443" cy="376.5" r="2.1" fill="#BDBDBD"/>
<circle cx="442.6" cy="371.4" r="2.1" fill="#BDBDBD"/>
<circle cx="493" cy="364" r="2.1" fill="#BDBDBD"/>
<circle cx="496" cy="371" r="2.1" fill="#BDBDBD"/>
<circle cx="492" cy="374" r="2.1" fill="#BDBDBD"/>
<circle cx="488" cy="372" r="2.1" fill="#BDBDBD"/>
<circle cx="494" cy="383" r="2.1" fill="#BDBDBD"/>
<circle cx="491" cy="380" r="2.1" fill="#BDBDBD"/>
<circle cx="483.9" cy="359.1" r="2.75" fill="#C9291F"/>
<circle cx="391.7" cy="395.7" r="2.75" fill="#C9291F"/>
<circle cx="481.8" cy="336.9" r="2.75" fill="#ECA65A"/>
<circle cx="488.1" cy="365.6" r="2.75" fill="#ECA65A"/>
<circle cx="490.4" cy="371.1" r="2.75" fill="#ECA65A"/>
<circle cx="483.6" cy="375.7" r="2.75" fill="#ECA65A"/>
<circle cx="487.4" cy="377.2" r="2.75" fill="#ECA65A"/>
<circle cx="469.6" cy="377.2" r="2.75" fill="#ECA65A"/>
<circle cx="449.3" cy="385.6" r="2.75" fill="#ECA65A"/>
<circle cx="484.3" cy="384.1" r="2.75" fill="#ECA65A"/>
<circle cx="487.4" cy="376.8" r="2.75" fill="#ECA65A"/>
<circle cx="490.5" cy="369" r="2.75" fill="#ECA65A"/>
<circle cx="479.1" cy="346.7" r="2.75" fill="#4A6DF0"/>
<circle cx="438.3" cy="364.6" r="2.75" fill="#4A6DF0"/>
<circle cx="484.8" cy="373.7" r="2.75" fill="#4A6DF0"/>
<circle cx="490.4" cy="383.3" r="2.75" fill="#4A6DF0"/>
<circle cx="454.9" cy="390.1" r="2.75" fill="#4A6DF0"/>
<circle cx="473" cy="393.9" r="2.75" fill="#4A6DF0"/>
<circle cx="488.6" cy="393.1" r="2.75" fill="#4A6DF0"/>
<circle cx="483.6" cy="401.9" r="2.75" fill="#4A6DF0"/>
<circle cx="473.8" cy="358.3" r="2.75" fill="#1D3E80"/>
<circle cx="439.8" cy="362.8" r="2.75" fill="#1D3E80"/>
<circle cx="451.1" cy="363.3" r="2.75" fill="#1D3E80"/>
<circle cx="473.5" cy="431.6" r="2.2" fill="#8EE03C" stroke="#111" stroke-width="0.9"/>
<rect x="370.2" y="402.7" width="41" height="38.1" fill="#fff" stroke="#3a3a3a" stroke-width="0.95"/>
<line x1="370.2" y1="411.7" x2="411.2" y2="411.7" stroke="#3a3a3a" stroke-width="0.95"/>
<text transform="translate(390.7,409.4) scale(1,1.07)" font-size="6" font-weight="bold" text-anchor="middle" fill="#111" stroke="#111" stroke-width="0.15">PRE</text>
<circle cx="381.2" cy="415.9" r="1.9" fill="#C9291F"/>
<text transform="translate(391.5,418.2) scale(1,1.07)" font-size="6" font-weight="bold" fill="#111" stroke="#111" stroke-width="0.15">DW</text>
<circle cx="381.2" cy="422.9" r="1.9" fill="#ECA65A"/>
<text transform="translate(391.5,425.2) scale(1,1.07)" font-size="6" font-weight="bold" fill="#111" stroke="#111" stroke-width="0.15">SCSW</text>
<circle cx="381.2" cy="429.9" r="1.9" fill="#4A6DF0"/>
<text transform="translate(391.5,432.2) scale(1,1.07)" font-size="6" font-weight="bold" fill="#111" stroke="#111" stroke-width="0.15">KW</text>
<circle cx="381.2" cy="436.9" r="1.9" fill="#1D3E80"/>
<text transform="translate(391.5,439.2) scale(1,1.07)" font-size="6" font-weight="bold" fill="#111" stroke="#111" stroke-width="0.15">CC</text>
<rect x="365.3" y="314.6" width="146.2" height="131" fill="none" stroke="#4a4a4a" stroke-width="1.15"/>
<text transform="translate(365.3,455.9) scale(1,1.07)" font-size="7.1" text-anchor="middle" fill="#262626" stroke="#262626" stroke-width="0.15">32</text>
<text transform="translate(389.67,455.9) scale(1,1.07)" font-size="7.1" text-anchor="middle" fill="#262626" stroke="#262626" stroke-width="0.15">32.5</text>
<text transform="translate(414.03,455.9) scale(1,1.07)" font-size="7.1" text-anchor="middle" fill="#262626" stroke="#262626" stroke-width="0.15">33</text>
<text transform="translate(438.4,455.9) scale(1,1.07)" font-size="7.1" text-anchor="middle" fill="#262626" stroke="#262626" stroke-width="0.15">33.5</text>
<text transform="translate(462.77,455.9) scale(1,1.07)" font-size="7.1" text-anchor="middle" fill="#262626" stroke="#262626" stroke-width="0.15">34</text>
<text transform="translate(487.13,455.9) scale(1,1.07)" font-size="7.1" text-anchor="middle" fill="#262626" stroke="#262626" stroke-width="0.15">34.5</text>
<text transform="translate(511.5,455.9) scale(1,1.07)" font-size="7.1" text-anchor="middle" fill="#262626" stroke="#262626" stroke-width="0.15">35</text>
<text transform="translate(362.3,449) scale(1,1.07)" font-size="7.1" text-anchor="end" fill="#262626" stroke="#262626" stroke-width="0.15">-10</text>
<text transform="translate(362.3,427.17) scale(1,1.07)" font-size="7.1" text-anchor="end" fill="#262626" stroke="#262626" stroke-width="0.15">-5</text>
<text transform="translate(362.3,405.33) scale(1,1.07)" font-size="7.1" text-anchor="end" fill="#262626" stroke="#262626" stroke-width="0.15">0</text>
<text transform="translate(362.3,383.5) scale(1,1.07)" font-size="7.1" text-anchor="end" fill="#262626" stroke="#262626" stroke-width="0.15">5</text>
<text transform="translate(362.3,361.67) scale(1,1.07)" font-size="7.1" text-anchor="end" fill="#262626" stroke="#262626" stroke-width="0.15">10</text>
<text transform="translate(362.3,339.83) scale(1,1.07)" font-size="7.1" text-anchor="end" fill="#262626" stroke="#262626" stroke-width="0.15">15</text>
<text transform="translate(362.3,318) scale(1,1.07)" font-size="7.1" text-anchor="end" fill="#262626" stroke="#262626" stroke-width="0.15">20</text>
<path d="M365.3 445.6v-2M365.3 314.6v2M389.67 445.6v-2M389.67 314.6v2M414.03 445.6v-2M414.03 314.6v2M438.4 445.6v-2M438.4 314.6v2M462.77 445.6v-2M462.77 314.6v2M487.13 445.6v-2M487.13 314.6v2M511.5 445.6v-2M511.5 314.6v2M365.3 445.6h2M511.5 445.6h-2M365.3 423.77h2M511.5 423.77h-2M365.3 401.93h2M511.5 401.93h-2M365.3 380.1h2M511.5 380.1h-2M365.3 358.27h2M511.5 358.27h-2M365.3 336.43h2M511.5 336.43h-2M365.3 314.6h2M511.5 314.6h-2" stroke="#333" stroke-width="1.0" fill="none"/>
<text x="368.1" y="327.2" font-size="10" font-weight="bold" fill="#111">k</text>
<rect x="534" y="314.6" width="146.2" height="131" fill="#fff"/>
<circle cx="625.3" cy="354" r="2.1" fill="#BDBDBD"/>
<circle cx="625.7" cy="370.1" r="2.1" fill="#BDBDBD"/>
<circle cx="639.4" cy="350.6" r="2.1" fill="#BDBDBD"/>
<circle cx="660.1" cy="318.5" r="2.1" fill="#BDBDBD"/>
<circle cx="677.7" cy="316.5" r="2.1" fill="#BDBDBD"/>
<circle cx="659.9" cy="326.6" r="2.1" fill="#BDBDBD"/>
<circle cx="658.7" cy="331.3" r="2.1" fill="#BDBDBD"/>
<circle cx="639.7" cy="350.9" r="2.1" fill="#BDBDBD"/>
<circle cx="655.7" cy="354.4" r="2.1" fill="#BDBDBD"/>
<circle cx="658.7" cy="359.8" r="2.1" fill="#BDBDBD"/>
<circle cx="668.2" cy="356.8" r="2.1" fill="#BDBDBD"/>
<circle cx="674.1" cy="353.8" r="2.1" fill="#BDBDBD"/>
<circle cx="665" cy="350" r="2.1" fill="#BDBDBD"/>
<circle cx="670" cy="352" r="2.1" fill="#BDBDBD"/>
<circle cx="668" cy="331" r="2.1" fill="#BDBDBD"/>
<circle cx="672" cy="345" r="2.1" fill="#BDBDBD"/>
<circle cx="667" cy="321" r="2.1" fill="#BDBDBD"/>
<circle cx="645" cy="345" r="2.1" fill="#BDBDBD"/>
<circle cx="642" cy="348" r="2.1" fill="#BDBDBD"/>
<circle cx="654.24" cy="345.87" r="2.1" fill="#BDBDBD"/>
<circle cx="661.79" cy="343.71" r="2.1" fill="#BDBDBD"/>
<circle cx="655.13" cy="346.51" r="2.1" fill="#BDBDBD"/>
<circle cx="649.95" cy="344.77" r="2.1" fill="#BDBDBD"/>
<circle cx="657.08" cy="351.24" r="2.1" fill="#BDBDBD"/>
<circle cx="648.51" cy="339.98" r="2.1" fill="#BDBDBD"/>
<circle cx="648.45" cy="351.62" r="2.1" fill="#BDBDBD"/>
<circle cx="658.1" cy="333.96" r="2.1" fill="#BDBDBD"/>
<circle cx="662.72" cy="355.19" r="2.1" fill="#BDBDBD"/>
<circle cx="657.46" cy="347.16" r="2.1" fill="#BDBDBD"/>
<circle cx="649.52" cy="333.35" r="2.1" fill="#BDBDBD"/>
<circle cx="655.45" cy="334.37" r="2.1" fill="#BDBDBD"/>
<circle cx="650.04" cy="338.56" r="2.1" fill="#BDBDBD"/>
<circle cx="647.48" cy="343.67" r="2.1" fill="#BDBDBD"/>
<circle cx="654.05" cy="352.38" r="2.1" fill="#BDBDBD"/>
<circle cx="655.31" cy="347.73" r="2.1" fill="#BDBDBD"/>
<circle cx="655" cy="348.24" r="2.1" fill="#BDBDBD"/>
<circle cx="654.32" cy="339.4" r="2.1" fill="#BDBDBD"/>
<circle cx="662.96" cy="355.9" r="2.1" fill="#BDBDBD"/>
<circle cx="660.44" cy="349.28" r="2.1" fill="#BDBDBD"/>
<circle cx="652.04" cy="338.28" r="2.1" fill="#BDBDBD"/>
<circle cx="651.62" cy="334.62" r="2.1" fill="#BDBDBD"/>
<circle cx="659.26" cy="342.21" r="2.1" fill="#BDBDBD"/>
<circle cx="660.55" cy="341.89" r="2.1" fill="#BDBDBD"/>
<circle cx="662.33" cy="352.49" r="2.1" fill="#BDBDBD"/>
<circle cx="647.01" cy="337.82" r="2.1" fill="#BDBDBD"/>
<circle cx="661.56" cy="343.81" r="2.1" fill="#BDBDBD"/>
<circle cx="662.69" cy="342.14" r="2.1" fill="#BDBDBD"/>
<circle cx="648.17" cy="347.48" r="2.1" fill="#BDBDBD"/>
<circle cx="659.46" cy="339.2" r="2.1" fill="#BDBDBD"/>
<circle cx="648.39" cy="340.65" r="2.1" fill="#BDBDBD"/>
<circle cx="662.43" cy="350.43" r="2.1" fill="#BDBDBD"/>
<circle cx="648.89" cy="338.67" r="2.1" fill="#BDBDBD"/>
<circle cx="648.62" cy="334.38" r="2.1" fill="#BDBDBD"/>
<circle cx="659.75" cy="337.09" r="2.1" fill="#BDBDBD"/>
<circle cx="655.95" cy="343.29" r="2.1" fill="#BDBDBD"/>
<circle cx="650.05" cy="349.83" r="2.1" fill="#BDBDBD"/>
<circle cx="649.1" cy="347.81" r="2.1" fill="#BDBDBD"/>
<circle cx="648.86" cy="342.68" r="2.1" fill="#BDBDBD"/>
<circle cx="650.41" cy="339.21" r="2.1" fill="#BDBDBD"/>
<circle cx="662.53" cy="351.48" r="2.1" fill="#BDBDBD"/>
<circle cx="651.87" cy="353.35" r="2.1" fill="#BDBDBD"/>
<circle cx="650.37" cy="342.07" r="2.1" fill="#BDBDBD"/>
<circle cx="660.67" cy="347.76" r="2.1" fill="#BDBDBD"/>
<circle cx="648.61" cy="355.75" r="2.1" fill="#BDBDBD"/>
<circle cx="591.1" cy="343.7" r="2.75" fill="#C9291F"/>
<circle cx="594.5" cy="364.3" r="2.75" fill="#C9291F"/>
<circle cx="624.7" cy="345.1" r="2.75" fill="#C9291F"/>
<circle cx="631.5" cy="337.6" r="2.75" fill="#C9291F"/>
<circle cx="632.5" cy="346.8" r="2.75" fill="#C9291F"/>
<circle cx="650.4" cy="329.8" r="2.75" fill="#C9291F"/>
<circle cx="650.4" cy="364.5" r="2.75" fill="#C9291F"/>
<circle cx="652.8" cy="406.8" r="2.75" fill="#C9291F"/>
<circle cx="664.6" cy="321.8" r="2.75" fill="#ECA65A"/>
<circle cx="661.7" cy="339.6" r="2.75" fill="#ECA65A"/>
<circle cx="671.7" cy="317.7" r="2.75" fill="#4A6DF0"/>
<circle cx="668.2" cy="325.4" r="2.75" fill="#4A6DF0"/>
<circle cx="668.2" cy="330.1" r="2.75" fill="#4A6DF0"/>
<circle cx="665.8" cy="343.2" r="2.75" fill="#4A6DF0"/>
<circle cx="678.8" cy="331.3" r="2.75" fill="#4A6DF0"/>
<circle cx="667" cy="338" r="2.75" fill="#4A6DF0"/>
<circle cx="664.6" cy="324.8" r="2.25" fill="#BDBDBD" stroke="#111" stroke-width="0.95"/>
<circle cx="664" cy="329" r="2.25" fill="#BDBDBD" stroke="#111" stroke-width="0.95"/>
<circle cx="662" cy="336.7" r="2.25" fill="#BDBDBD" stroke="#111" stroke-width="0.95"/>
<circle cx="669.4" cy="340.2" r="2.25" fill="#BDBDBD" stroke="#111" stroke-width="0.95"/>
<circle cx="672.7" cy="334.9" r="2.25" fill="#BDBDBD" stroke="#111" stroke-width="0.95"/>
<circle cx="675.3" cy="323.6" r="2.25" fill="#BDBDBD" stroke="#111" stroke-width="0.95"/>
<circle cx="677.1" cy="340.2" r="2.25" fill="#BDBDBD" stroke="#111" stroke-width="0.95"/>
<circle cx="649.8" cy="351.5" r="2.25" fill="#BDBDBD" stroke="#111" stroke-width="0.95"/>
<circle cx="661.3" cy="352.4" r="2.25" fill="#BDBDBD" stroke="#111" stroke-width="0.95"/>
<circle cx="677.5" cy="325.5" r="2.25" fill="#BDBDBD" stroke="#111" stroke-width="0.95"/>
<circle cx="664.6" cy="333.1" r="2.2" fill="#8EE03C" stroke="#111" stroke-width="0.9"/>
<circle cx="664" cy="337.3" r="2.2" fill="#8EE03C" stroke="#111" stroke-width="0.9"/>
<circle cx="665.8" cy="340.2" r="2.2" fill="#8EE03C" stroke="#111" stroke-width="0.9"/>
<circle cx="661.7" cy="345.3" r="2.2" fill="#8EE03C" stroke="#111" stroke-width="0.9"/>
<circle cx="669.1" cy="346.5" r="2.2" fill="#8EE03C" stroke="#111" stroke-width="0.9"/>
<circle cx="675.3" cy="326.6" r="2.2" fill="#8EE03C" stroke="#111" stroke-width="0.9"/>
<circle cx="676.2" cy="330.7" r="2.2" fill="#8EE03C" stroke="#111" stroke-width="0.9"/>
<circle cx="675.9" cy="333.7" r="2.2" fill="#8EE03C" stroke="#111" stroke-width="0.9"/>
<circle cx="672.7" cy="338.7" r="2.2" fill="#8EE03C" stroke="#111" stroke-width="0.9"/>
<circle cx="677.7" cy="343.8" r="2.2" fill="#8EE03C" stroke="#111" stroke-width="0.9"/>
<circle cx="675.9" cy="348.2" r="2.2" fill="#8EE03C" stroke="#111" stroke-width="0.9"/>
<circle cx="649.8" cy="357.2" r="2.2" fill="#8EE03C" stroke="#111" stroke-width="0.9"/>
<circle cx="661.7" cy="355" r="2.2" fill="#8EE03C" stroke="#111" stroke-width="0.9"/>
<circle cx="661.7" cy="358" r="2.2" fill="#8EE03C" stroke="#111" stroke-width="0.9"/>
<rect x="538.5" y="409.7" width="42.2" height="31.1" fill="#fff" stroke="#3a3a3a" stroke-width="0.95"/>
<line x1="538.5" y1="418.7" x2="580.7" y2="418.7" stroke="#3a3a3a" stroke-width="0.95"/>
<text transform="translate(559.6,416.4) scale(1,1.07)" font-size="6" font-weight="bold" text-anchor="middle" fill="#111" stroke="#111" stroke-width="0.15">WG</text>
<circle cx="549.5" cy="422.9" r="1.9" fill="#C9291F"/>
<text transform="translate(559.8,425.2) scale(1,1.07)" font-size="6" font-weight="bold" fill="#111" stroke="#111" stroke-width="0.15">DW</text>
<circle cx="549.5" cy="429.9" r="1.9" fill="#ECA65A"/>
<text transform="translate(559.8,432.2) scale(1,1.07)" font-size="6" font-weight="bold" fill="#111" stroke="#111" stroke-width="0.15">WGCC</text>
<circle cx="549.5" cy="436.9" r="1.9" fill="#4A6DF0"/>
<text transform="translate(559.8,439.2) scale(1,1.07)" font-size="6" font-weight="bold" fill="#111" stroke="#111" stroke-width="0.15">SCSW</text>
<rect x="534" y="314.6" width="146.2" height="131" fill="none" stroke="#4a4a4a" stroke-width="1.15"/>
<text transform="translate(534,455.9) scale(1,1.07)" font-size="7.1" text-anchor="middle" fill="#262626" stroke="#262626" stroke-width="0.15">15</text>
<text transform="translate(570.55,455.9) scale(1,1.07)" font-size="7.1" text-anchor="middle" fill="#262626" stroke="#262626" stroke-width="0.15">20</text>
<text transform="translate(607.1,455.9) scale(1,1.07)" font-size="7.1" text-anchor="middle" fill="#262626" stroke="#262626" stroke-width="0.15">25</text>
<text transform="translate(643.65,455.9) scale(1,1.07)" font-size="7.1" text-anchor="middle" fill="#262626" stroke="#262626" stroke-width="0.15">30</text>
<text transform="translate(680.2,455.9) scale(1,1.07)" font-size="7.1" text-anchor="middle" fill="#262626" stroke="#262626" stroke-width="0.15">35</text>
<text transform="translate(531,449) scale(1,1.07)" font-size="7.1" text-anchor="end" fill="#262626" stroke="#262626" stroke-width="0.15">-60</text>
<text transform="translate(531,430.29) scale(1,1.07)" font-size="7.1" text-anchor="end" fill="#262626" stroke="#262626" stroke-width="0.15">-50</text>
<text transform="translate(531,411.57) scale(1,1.07)" font-size="7.1" text-anchor="end" fill="#262626" stroke="#262626" stroke-width="0.15">-40</text>
<text transform="translate(531,392.86) scale(1,1.07)" font-size="7.1" text-anchor="end" fill="#262626" stroke="#262626" stroke-width="0.15">-30</text>
<text transform="translate(531,374.14) scale(1,1.07)" font-size="7.1" text-anchor="end" fill="#262626" stroke="#262626" stroke-width="0.15">-20</text>
<text transform="translate(531,355.43) scale(1,1.07)" font-size="7.1" text-anchor="end" fill="#262626" stroke="#262626" stroke-width="0.15">-10</text>
<text transform="translate(531,336.71) scale(1,1.07)" font-size="7.1" text-anchor="end" fill="#262626" stroke="#262626" stroke-width="0.15">0</text>
<text transform="translate(531,318) scale(1,1.07)" font-size="7.1" text-anchor="end" fill="#262626" stroke="#262626" stroke-width="0.15">10</text>
<path d="M534 445.6v-2M534 314.6v2M570.55 445.6v-2M570.55 314.6v2M607.1 445.6v-2M607.1 314.6v2M643.65 445.6v-2M643.65 314.6v2M680.2 445.6v-2M680.2 314.6v2M534 445.6h2M680.2 445.6h-2M534 426.89h2M680.2 426.89h-2M534 408.17h2M680.2 408.17h-2M534 389.46h2M680.2 389.46h-2M534 370.74h2M680.2 370.74h-2M534 352.03h2M680.2 352.03h-2M534 333.31h2M680.2 333.31h-2M534 314.6h2M680.2 314.6h-2" stroke="#333" stroke-width="1.0" fill="none"/>
<text x="536.8" y="327.2" font-size="10" font-weight="bold" fill="#111">l</text>
<text transform="translate(12.5,70.0) rotate(-90)" font-size="7.5" font-weight="bold" fill="#111" stroke="#111" stroke-width="0.2" text-anchor="middle"><tspan font-style="italic">d</tspan>-excess (‰)</text>
<text x="354.0" y="152.6" font-size="7.5" font-weight="bold" fill="#111" stroke="#111" stroke-width="0.2" text-anchor="middle">δ<tspan font-size="5.6" dy="-3.1">18</tspan><tspan dy="3.1">O (‰)</tspan></text>
<text transform="translate(9.5,225.2) rotate(-90)" font-size="8.2" font-weight="bold" fill="#111" stroke="#111" stroke-width="0.2" text-anchor="middle">δ<tspan font-size="5.6" dy="-3.4">18</tspan><tspan dy="3.4">O (‰)</tspan></text>
<text x="354.3" y="308.0" font-size="7.3" font-weight="bold" fill="#111" stroke="#111" stroke-width="0.2" text-anchor="middle">Salinity (psu)</text>
<text transform="translate(12.5,380.6) rotate(-90)" font-size="7.5" font-weight="bold" fill="#111" stroke="#111" stroke-width="0.2" text-anchor="middle">δD (‰)</text>
<text x="354.3" y="461.7" font-size="7.3" font-weight="bold" fill="#111" stroke="#111" stroke-width="0.2" text-anchor="middle">Salinity (psu)</text>
</svg></body></html>
